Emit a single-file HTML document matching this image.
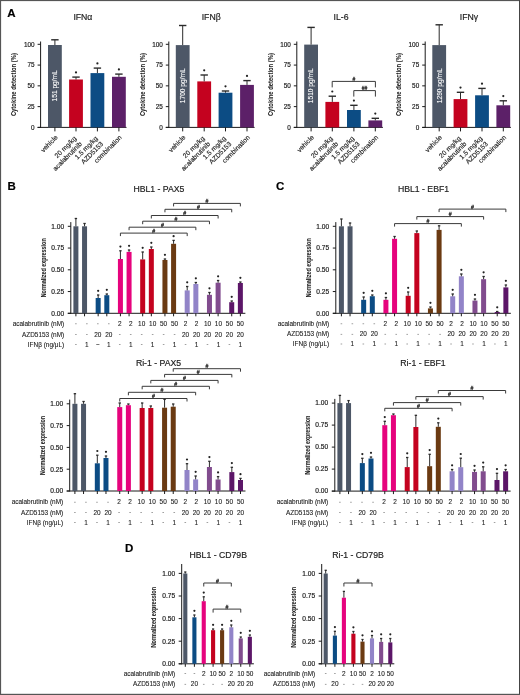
<!DOCTYPE html>
<html><head><meta charset="utf-8"><style>
html,body{margin:0;padding:0;background:#fff;}
body{width:520px;height:695px;overflow:hidden;}
svg{display:block;font-family:"Liberation Sans", sans-serif;will-change:transform;}
</style></head><body>
<svg width="520" height="695" viewBox="0 0 520 695">
<rect x="0" y="0" width="520" height="695" fill="#fff"/>
<text x="82.90" y="20.00" font-size="8.7" text-anchor="middle" fill="#222" font-weight="normal" stroke="#222" stroke-width="0.18" >IFN&#945;</text>
<line x1="40.60" y1="41.50" x2="40.60" y2="127.90" stroke="#1a1a1a" stroke-width="1"/>
<line x1="37.60" y1="127.40" x2="126.50" y2="127.40" stroke="#1a1a1a" stroke-width="1"/>
<line x1="37.60" y1="44.30" x2="40.60" y2="44.30" stroke="#1a1a1a" stroke-width="1"/>
<text x="34.60" y="46.50" font-size="6.4" text-anchor="end" fill="#222" font-weight="normal" stroke="#222" stroke-width="0.18" >100</text>
<line x1="37.60" y1="65.08" x2="40.60" y2="65.08" stroke="#1a1a1a" stroke-width="1"/>
<text x="34.60" y="67.28" font-size="6.4" text-anchor="end" fill="#222" font-weight="normal" stroke="#222" stroke-width="0.18" >75</text>
<line x1="37.60" y1="85.85" x2="40.60" y2="85.85" stroke="#1a1a1a" stroke-width="1"/>
<text x="34.60" y="88.05" font-size="6.4" text-anchor="end" fill="#222" font-weight="normal" stroke="#222" stroke-width="0.18" >50</text>
<line x1="37.60" y1="106.62" x2="40.60" y2="106.62" stroke="#1a1a1a" stroke-width="1"/>
<text x="34.60" y="108.83" font-size="6.4" text-anchor="end" fill="#222" font-weight="normal" stroke="#222" stroke-width="0.18" >25</text>
<line x1="37.60" y1="127.40" x2="40.60" y2="127.40" stroke="#1a1a1a" stroke-width="1"/>
<text x="34.60" y="129.60" font-size="6.4" text-anchor="end" fill="#222" font-weight="normal" stroke="#222" stroke-width="0.18" >0</text>
<text transform="translate(16.30,84.60) rotate(-90)" font-size="7.8" font-weight="bold" text-anchor="middle" fill="#222" stroke="#222" stroke-width="0.05" textLength="63" lengthAdjust="spacingAndGlyphs">Cytokine detection (%)</text>
<rect x="48.00" y="45.00" width="13.80" height="82.40" fill="#4d5767"/>
<line x1="54.90" y1="39.80" x2="54.90" y2="45.00" stroke="#2b2b2b" stroke-width="1"/>
<line x1="51.20" y1="39.80" x2="58.60" y2="39.80" stroke="#2b2b2b" stroke-width="1.4"/>
<line x1="54.90" y1="127.40" x2="54.90" y2="131.40" stroke="#1a1a1a" stroke-width="1"/>
<rect x="69.10" y="79.50" width="13.80" height="47.90" fill="#c4021f"/>
<line x1="76.00" y1="77.10" x2="76.00" y2="79.50" stroke="#2b2b2b" stroke-width="1"/>
<line x1="72.30" y1="77.10" x2="79.70" y2="77.10" stroke="#2b2b2b" stroke-width="1.4"/>
<line x1="76.00" y1="127.40" x2="76.00" y2="131.40" stroke="#1a1a1a" stroke-width="1"/>
<circle cx="76.00" cy="72.40" r="1.1" fill="#222"/>
<rect x="90.50" y="73.10" width="13.80" height="54.30" fill="#0c4c84"/>
<line x1="97.40" y1="68.10" x2="97.40" y2="73.10" stroke="#2b2b2b" stroke-width="1"/>
<line x1="93.70" y1="68.10" x2="101.10" y2="68.10" stroke="#2b2b2b" stroke-width="1.4"/>
<line x1="97.40" y1="127.40" x2="97.40" y2="131.40" stroke="#1a1a1a" stroke-width="1"/>
<circle cx="97.40" cy="63.40" r="1.1" fill="#222"/>
<rect x="112.00" y="76.80" width="13.80" height="50.60" fill="#5c2068"/>
<line x1="118.90" y1="74.10" x2="118.90" y2="76.80" stroke="#2b2b2b" stroke-width="1"/>
<line x1="115.20" y1="74.10" x2="122.60" y2="74.10" stroke="#2b2b2b" stroke-width="1.4"/>
<line x1="118.90" y1="127.40" x2="118.90" y2="131.40" stroke="#1a1a1a" stroke-width="1"/>
<circle cx="118.90" cy="69.40" r="1.1" fill="#222"/>
<text transform="translate(57.20,85.80) rotate(-90)" font-size="6.6" text-anchor="middle" fill="#fff" stroke="#fff" stroke-width="0.1">151 pg/mL</text>
<text transform="translate(58.20,137.90) rotate(-45)" font-size="6.7" text-anchor="end" fill="#222" stroke="#222" stroke-width="0.15">vehicle</text>
<text transform="translate(76.82,138.96) rotate(-45)" font-size="6.7" text-anchor="end" fill="#222" stroke="#222" stroke-width="0.15">20 mg/kg</text>
<text transform="translate(82.32,144.46) rotate(-45)" font-size="6.7" text-anchor="end" fill="#222" stroke="#222" stroke-width="0.15">acalabrutinib</text>
<text transform="translate(98.22,138.96) rotate(-45)" font-size="6.7" text-anchor="end" fill="#222" stroke="#222" stroke-width="0.15">1.5 mg/kg</text>
<text transform="translate(103.72,144.46) rotate(-45)" font-size="6.7" text-anchor="end" fill="#222" stroke="#222" stroke-width="0.15">AZD5153</text>
<text transform="translate(122.20,137.90) rotate(-45)" font-size="6.7" text-anchor="end" fill="#222" stroke="#222" stroke-width="0.15">combination</text>
<text x="211.20" y="20.00" font-size="8.7" text-anchor="middle" fill="#222" font-weight="normal" stroke="#222" stroke-width="0.18" >IFN&#946;</text>
<line x1="168.80" y1="41.50" x2="168.80" y2="127.90" stroke="#1a1a1a" stroke-width="1"/>
<line x1="165.80" y1="127.40" x2="254.60" y2="127.40" stroke="#1a1a1a" stroke-width="1"/>
<line x1="165.80" y1="44.30" x2="168.80" y2="44.30" stroke="#1a1a1a" stroke-width="1"/>
<text x="162.80" y="46.50" font-size="6.4" text-anchor="end" fill="#222" font-weight="normal" stroke="#222" stroke-width="0.18" >100</text>
<line x1="165.80" y1="65.08" x2="168.80" y2="65.08" stroke="#1a1a1a" stroke-width="1"/>
<text x="162.80" y="67.28" font-size="6.4" text-anchor="end" fill="#222" font-weight="normal" stroke="#222" stroke-width="0.18" >75</text>
<line x1="165.80" y1="85.85" x2="168.80" y2="85.85" stroke="#1a1a1a" stroke-width="1"/>
<text x="162.80" y="88.05" font-size="6.4" text-anchor="end" fill="#222" font-weight="normal" stroke="#222" stroke-width="0.18" >50</text>
<line x1="165.80" y1="106.62" x2="168.80" y2="106.62" stroke="#1a1a1a" stroke-width="1"/>
<text x="162.80" y="108.83" font-size="6.4" text-anchor="end" fill="#222" font-weight="normal" stroke="#222" stroke-width="0.18" >25</text>
<line x1="165.80" y1="127.40" x2="168.80" y2="127.40" stroke="#1a1a1a" stroke-width="1"/>
<text x="162.80" y="129.60" font-size="6.4" text-anchor="end" fill="#222" font-weight="normal" stroke="#222" stroke-width="0.18" >0</text>
<text transform="translate(144.50,84.60) rotate(-90)" font-size="7.8" font-weight="bold" text-anchor="middle" fill="#222" stroke="#222" stroke-width="0.05" textLength="63" lengthAdjust="spacingAndGlyphs">Cytokine detection (%)</text>
<rect x="175.80" y="45.10" width="13.80" height="82.30" fill="#4d5767"/>
<line x1="182.70" y1="25.50" x2="182.70" y2="45.10" stroke="#2b2b2b" stroke-width="1"/>
<line x1="179.00" y1="25.50" x2="186.40" y2="25.50" stroke="#2b2b2b" stroke-width="1.4"/>
<line x1="182.70" y1="127.40" x2="182.70" y2="131.40" stroke="#1a1a1a" stroke-width="1"/>
<rect x="197.30" y="81.40" width="13.80" height="46.00" fill="#c4021f"/>
<line x1="204.20" y1="75.00" x2="204.20" y2="81.40" stroke="#2b2b2b" stroke-width="1"/>
<line x1="200.50" y1="75.00" x2="207.90" y2="75.00" stroke="#2b2b2b" stroke-width="1.4"/>
<line x1="204.20" y1="127.40" x2="204.20" y2="131.40" stroke="#1a1a1a" stroke-width="1"/>
<circle cx="204.20" cy="70.30" r="1.1" fill="#222"/>
<rect x="218.60" y="92.70" width="13.80" height="34.70" fill="#0c4c84"/>
<line x1="225.50" y1="91.00" x2="225.50" y2="92.70" stroke="#2b2b2b" stroke-width="1"/>
<line x1="221.80" y1="91.00" x2="229.20" y2="91.00" stroke="#2b2b2b" stroke-width="1.4"/>
<line x1="225.50" y1="127.40" x2="225.50" y2="131.40" stroke="#1a1a1a" stroke-width="1"/>
<circle cx="225.50" cy="86.30" r="1.1" fill="#222"/>
<rect x="240.10" y="84.90" width="13.80" height="42.50" fill="#5c2068"/>
<line x1="247.00" y1="80.60" x2="247.00" y2="84.90" stroke="#2b2b2b" stroke-width="1"/>
<line x1="243.30" y1="80.60" x2="250.70" y2="80.60" stroke="#2b2b2b" stroke-width="1.4"/>
<line x1="247.00" y1="127.40" x2="247.00" y2="131.40" stroke="#1a1a1a" stroke-width="1"/>
<circle cx="247.00" cy="75.90" r="1.1" fill="#222"/>
<text transform="translate(185.00,85.80) rotate(-90)" font-size="6.6" text-anchor="middle" fill="#fff" stroke="#fff" stroke-width="0.1">1700 pg/mL</text>
<text transform="translate(186.00,137.90) rotate(-45)" font-size="6.7" text-anchor="end" fill="#222" stroke="#222" stroke-width="0.15">vehicle</text>
<text transform="translate(205.02,138.96) rotate(-45)" font-size="6.7" text-anchor="end" fill="#222" stroke="#222" stroke-width="0.15">20 mg/kg</text>
<text transform="translate(210.52,144.46) rotate(-45)" font-size="6.7" text-anchor="end" fill="#222" stroke="#222" stroke-width="0.15">acalabrutinib</text>
<text transform="translate(226.32,138.96) rotate(-45)" font-size="6.7" text-anchor="end" fill="#222" stroke="#222" stroke-width="0.15">1.5 mg/kg</text>
<text transform="translate(231.82,144.46) rotate(-45)" font-size="6.7" text-anchor="end" fill="#222" stroke="#222" stroke-width="0.15">AZD5153</text>
<text transform="translate(250.30,137.90) rotate(-45)" font-size="6.7" text-anchor="end" fill="#222" stroke="#222" stroke-width="0.15">combination</text>
<text x="341.00" y="20.00" font-size="8.7" text-anchor="middle" fill="#222" font-weight="normal" stroke="#222" stroke-width="0.18" >IL-6</text>
<line x1="296.80" y1="41.50" x2="296.80" y2="127.90" stroke="#1a1a1a" stroke-width="1"/>
<line x1="293.80" y1="127.40" x2="382.90" y2="127.40" stroke="#1a1a1a" stroke-width="1"/>
<line x1="293.80" y1="44.30" x2="296.80" y2="44.30" stroke="#1a1a1a" stroke-width="1"/>
<text x="290.80" y="46.50" font-size="6.4" text-anchor="end" fill="#222" font-weight="normal" stroke="#222" stroke-width="0.18" >100</text>
<line x1="293.80" y1="65.08" x2="296.80" y2="65.08" stroke="#1a1a1a" stroke-width="1"/>
<text x="290.80" y="67.28" font-size="6.4" text-anchor="end" fill="#222" font-weight="normal" stroke="#222" stroke-width="0.18" >75</text>
<line x1="293.80" y1="85.85" x2="296.80" y2="85.85" stroke="#1a1a1a" stroke-width="1"/>
<text x="290.80" y="88.05" font-size="6.4" text-anchor="end" fill="#222" font-weight="normal" stroke="#222" stroke-width="0.18" >50</text>
<line x1="293.80" y1="106.62" x2="296.80" y2="106.62" stroke="#1a1a1a" stroke-width="1"/>
<text x="290.80" y="108.83" font-size="6.4" text-anchor="end" fill="#222" font-weight="normal" stroke="#222" stroke-width="0.18" >25</text>
<line x1="293.80" y1="127.40" x2="296.80" y2="127.40" stroke="#1a1a1a" stroke-width="1"/>
<text x="290.80" y="129.60" font-size="6.4" text-anchor="end" fill="#222" font-weight="normal" stroke="#222" stroke-width="0.18" >0</text>
<text transform="translate(272.50,84.60) rotate(-90)" font-size="7.8" font-weight="bold" text-anchor="middle" fill="#222" stroke="#222" stroke-width="0.05" textLength="63" lengthAdjust="spacingAndGlyphs">Cytokine detection (%)</text>
<rect x="304.20" y="44.60" width="13.80" height="82.80" fill="#4d5767"/>
<line x1="311.10" y1="27.40" x2="311.10" y2="44.60" stroke="#2b2b2b" stroke-width="1"/>
<line x1="307.40" y1="27.40" x2="314.80" y2="27.40" stroke="#2b2b2b" stroke-width="1.4"/>
<line x1="311.10" y1="127.40" x2="311.10" y2="131.40" stroke="#1a1a1a" stroke-width="1"/>
<rect x="325.40" y="101.90" width="13.80" height="25.50" fill="#c4021f"/>
<line x1="332.30" y1="96.20" x2="332.30" y2="101.90" stroke="#2b2b2b" stroke-width="1"/>
<line x1="328.60" y1="96.20" x2="336.00" y2="96.20" stroke="#2b2b2b" stroke-width="1.4"/>
<line x1="332.30" y1="127.40" x2="332.30" y2="131.40" stroke="#1a1a1a" stroke-width="1"/>
<circle cx="332.30" cy="91.50" r="1.1" fill="#222"/>
<rect x="347.00" y="110.00" width="13.80" height="17.40" fill="#0c4c84"/>
<line x1="353.90" y1="105.30" x2="353.90" y2="110.00" stroke="#2b2b2b" stroke-width="1"/>
<line x1="350.20" y1="105.30" x2="357.60" y2="105.30" stroke="#2b2b2b" stroke-width="1.4"/>
<line x1="353.90" y1="127.40" x2="353.90" y2="131.40" stroke="#1a1a1a" stroke-width="1"/>
<circle cx="353.90" cy="100.60" r="1.1" fill="#222"/>
<rect x="368.40" y="120.40" width="13.80" height="7.00" fill="#5c2068"/>
<line x1="375.30" y1="118.30" x2="375.30" y2="120.40" stroke="#2b2b2b" stroke-width="1"/>
<line x1="371.60" y1="118.30" x2="379.00" y2="118.30" stroke="#2b2b2b" stroke-width="1.4"/>
<line x1="375.30" y1="127.40" x2="375.30" y2="131.40" stroke="#1a1a1a" stroke-width="1"/>
<circle cx="375.30" cy="113.60" r="1.1" fill="#222"/>
<text transform="translate(313.40,85.80) rotate(-90)" font-size="6.6" text-anchor="middle" fill="#fff" stroke="#fff" stroke-width="0.1">1510 pg/mL</text>
<text transform="translate(314.40,137.90) rotate(-45)" font-size="6.7" text-anchor="end" fill="#222" stroke="#222" stroke-width="0.15">vehicle</text>
<text transform="translate(333.12,138.96) rotate(-45)" font-size="6.7" text-anchor="end" fill="#222" stroke="#222" stroke-width="0.15">20 mg/kg</text>
<text transform="translate(338.62,144.46) rotate(-45)" font-size="6.7" text-anchor="end" fill="#222" stroke="#222" stroke-width="0.15">acalabrutinib</text>
<text transform="translate(354.72,138.96) rotate(-45)" font-size="6.7" text-anchor="end" fill="#222" stroke="#222" stroke-width="0.15">1.5 mg/kg</text>
<text transform="translate(360.22,144.46) rotate(-45)" font-size="6.7" text-anchor="end" fill="#222" stroke="#222" stroke-width="0.15">AZD5153</text>
<text transform="translate(378.60,137.90) rotate(-45)" font-size="6.7" text-anchor="end" fill="#222" stroke="#222" stroke-width="0.15">combination</text>
<text x="469.00" y="20.00" font-size="8.7" text-anchor="middle" fill="#222" font-weight="normal" stroke="#222" stroke-width="0.18" >IFN&#947;</text>
<line x1="425.20" y1="41.50" x2="425.20" y2="127.90" stroke="#1a1a1a" stroke-width="1"/>
<line x1="422.20" y1="127.40" x2="510.90" y2="127.40" stroke="#1a1a1a" stroke-width="1"/>
<line x1="422.20" y1="44.30" x2="425.20" y2="44.30" stroke="#1a1a1a" stroke-width="1"/>
<text x="419.20" y="46.50" font-size="6.4" text-anchor="end" fill="#222" font-weight="normal" stroke="#222" stroke-width="0.18" >100</text>
<line x1="422.20" y1="65.08" x2="425.20" y2="65.08" stroke="#1a1a1a" stroke-width="1"/>
<text x="419.20" y="67.28" font-size="6.4" text-anchor="end" fill="#222" font-weight="normal" stroke="#222" stroke-width="0.18" >75</text>
<line x1="422.20" y1="85.85" x2="425.20" y2="85.85" stroke="#1a1a1a" stroke-width="1"/>
<text x="419.20" y="88.05" font-size="6.4" text-anchor="end" fill="#222" font-weight="normal" stroke="#222" stroke-width="0.18" >50</text>
<line x1="422.20" y1="106.62" x2="425.20" y2="106.62" stroke="#1a1a1a" stroke-width="1"/>
<text x="419.20" y="108.83" font-size="6.4" text-anchor="end" fill="#222" font-weight="normal" stroke="#222" stroke-width="0.18" >25</text>
<line x1="422.20" y1="127.40" x2="425.20" y2="127.40" stroke="#1a1a1a" stroke-width="1"/>
<text x="419.20" y="129.60" font-size="6.4" text-anchor="end" fill="#222" font-weight="normal" stroke="#222" stroke-width="0.18" >0</text>
<text transform="translate(400.90,84.60) rotate(-90)" font-size="7.8" font-weight="bold" text-anchor="middle" fill="#222" stroke="#222" stroke-width="0.05" textLength="63" lengthAdjust="spacingAndGlyphs">Cytokine detection (%)</text>
<rect x="432.30" y="45.10" width="13.80" height="82.30" fill="#4d5767"/>
<line x1="439.20" y1="24.80" x2="439.20" y2="45.10" stroke="#2b2b2b" stroke-width="1"/>
<line x1="435.50" y1="24.80" x2="442.90" y2="24.80" stroke="#2b2b2b" stroke-width="1.4"/>
<line x1="439.20" y1="127.40" x2="439.20" y2="131.40" stroke="#1a1a1a" stroke-width="1"/>
<rect x="453.60" y="99.10" width="13.80" height="28.30" fill="#c4021f"/>
<line x1="460.50" y1="92.30" x2="460.50" y2="99.10" stroke="#2b2b2b" stroke-width="1"/>
<line x1="456.80" y1="92.30" x2="464.20" y2="92.30" stroke="#2b2b2b" stroke-width="1.4"/>
<line x1="460.50" y1="127.40" x2="460.50" y2="131.40" stroke="#1a1a1a" stroke-width="1"/>
<circle cx="460.50" cy="87.60" r="1.1" fill="#222"/>
<rect x="475.10" y="95.30" width="13.80" height="32.10" fill="#0c4c84"/>
<line x1="482.00" y1="88.40" x2="482.00" y2="95.30" stroke="#2b2b2b" stroke-width="1"/>
<line x1="478.30" y1="88.40" x2="485.70" y2="88.40" stroke="#2b2b2b" stroke-width="1.4"/>
<line x1="482.00" y1="127.40" x2="482.00" y2="131.40" stroke="#1a1a1a" stroke-width="1"/>
<circle cx="482.00" cy="83.70" r="1.1" fill="#222"/>
<rect x="496.40" y="105.30" width="13.80" height="22.10" fill="#5c2068"/>
<line x1="503.30" y1="100.80" x2="503.30" y2="105.30" stroke="#2b2b2b" stroke-width="1"/>
<line x1="499.60" y1="100.80" x2="507.00" y2="100.80" stroke="#2b2b2b" stroke-width="1.4"/>
<line x1="503.30" y1="127.40" x2="503.30" y2="131.40" stroke="#1a1a1a" stroke-width="1"/>
<circle cx="503.30" cy="96.10" r="1.1" fill="#222"/>
<text transform="translate(441.50,85.80) rotate(-90)" font-size="6.6" text-anchor="middle" fill="#fff" stroke="#fff" stroke-width="0.1">1290 pg/mL</text>
<text transform="translate(442.50,137.90) rotate(-45)" font-size="6.7" text-anchor="end" fill="#222" stroke="#222" stroke-width="0.15">vehicle</text>
<text transform="translate(461.32,138.96) rotate(-45)" font-size="6.7" text-anchor="end" fill="#222" stroke="#222" stroke-width="0.15">20 mg/kg</text>
<text transform="translate(466.82,144.46) rotate(-45)" font-size="6.7" text-anchor="end" fill="#222" stroke="#222" stroke-width="0.15">acalabrutinib</text>
<text transform="translate(482.82,138.96) rotate(-45)" font-size="6.7" text-anchor="end" fill="#222" stroke="#222" stroke-width="0.15">1.5 mg/kg</text>
<text transform="translate(488.32,144.46) rotate(-45)" font-size="6.7" text-anchor="end" fill="#222" stroke="#222" stroke-width="0.15">AZD5153</text>
<text transform="translate(506.60,137.90) rotate(-45)" font-size="6.7" text-anchor="end" fill="#222" stroke="#222" stroke-width="0.15">combination</text>
<path d="M332.20,87.40 V81.40 H375.40 V87.40" fill="none" stroke="#3a3a3a" stroke-width="1.0"/>
<text x="353.80" y="81.10" font-size="5" text-anchor="middle" fill="#333" font-weight="normal" stroke="#333" stroke-width="0.3" >#</text>
<path d="M353.80,96.60 V90.60 H375.40 V96.60" fill="none" stroke="#3a3a3a" stroke-width="1.0"/>
<text x="364.60" y="90.30" font-size="5" text-anchor="middle" fill="#333" font-weight="normal" stroke="#333" stroke-width="0.3" >##</text>
<text x="158.90" y="192.00" font-size="8.7" text-anchor="middle" fill="#222" font-weight="normal" stroke="#222" stroke-width="0.18" >HBL1 - PAX5</text>
<line x1="70.80" y1="222.10" x2="70.80" y2="313.80" stroke="#1a1a1a" stroke-width="1"/>
<line x1="67.80" y1="313.30" x2="245.37" y2="313.30" stroke="#1a1a1a" stroke-width="1"/>
<line x1="67.80" y1="226.30" x2="70.80" y2="226.30" stroke="#1a1a1a" stroke-width="1"/>
<text x="64.20" y="228.60" font-size="6.6" text-anchor="end" fill="#222" font-weight="normal" stroke="#222" stroke-width="0.18" >1.00</text>
<line x1="67.80" y1="248.05" x2="70.80" y2="248.05" stroke="#1a1a1a" stroke-width="1"/>
<text x="64.20" y="250.35" font-size="6.6" text-anchor="end" fill="#222" font-weight="normal" stroke="#222" stroke-width="0.18" >0.75</text>
<line x1="67.80" y1="269.80" x2="70.80" y2="269.80" stroke="#1a1a1a" stroke-width="1"/>
<text x="64.20" y="272.10" font-size="6.6" text-anchor="end" fill="#222" font-weight="normal" stroke="#222" stroke-width="0.18" >0.50</text>
<line x1="67.80" y1="291.55" x2="70.80" y2="291.55" stroke="#1a1a1a" stroke-width="1"/>
<text x="64.20" y="293.85" font-size="6.6" text-anchor="end" fill="#222" font-weight="normal" stroke="#222" stroke-width="0.18" >0.25</text>
<line x1="67.80" y1="313.30" x2="70.80" y2="313.30" stroke="#1a1a1a" stroke-width="1"/>
<text x="64.20" y="315.60" font-size="6.6" text-anchor="end" fill="#222" font-weight="normal" stroke="#222" stroke-width="0.18" >0.00</text>
<text transform="translate(45.80,267.80) rotate(-90)" font-size="7.4" font-weight="bold" text-anchor="middle" fill="#222" stroke="#222" stroke-width="0.05" textLength="59" lengthAdjust="spacingAndGlyphs">Normalized expression</text>
<rect x="73.40" y="226.30" width="5.00" height="87.00" fill="#4d5767"/>
<line x1="75.90" y1="218.50" x2="75.90" y2="226.30" stroke="#2b2b2b" stroke-width="1"/>
<line x1="74.70" y1="218.50" x2="77.10" y2="218.50" stroke="#2b2b2b" stroke-width="1.3"/>
<line x1="75.90" y1="313.30" x2="75.90" y2="316.30" stroke="#1a1a1a" stroke-width="1"/>
<rect x="82.05" y="226.30" width="5.00" height="87.00" fill="#4d5767"/>
<line x1="84.55" y1="223.50" x2="84.55" y2="226.30" stroke="#2b2b2b" stroke-width="1"/>
<line x1="83.35" y1="223.50" x2="85.75" y2="223.50" stroke="#2b2b2b" stroke-width="1.3"/>
<line x1="84.55" y1="313.30" x2="84.55" y2="316.30" stroke="#1a1a1a" stroke-width="1"/>
<rect x="95.66" y="298.00" width="5.00" height="15.30" fill="#0c4c84"/>
<line x1="98.16" y1="295.00" x2="98.16" y2="298.00" stroke="#2b2b2b" stroke-width="1"/>
<line x1="96.96" y1="295.00" x2="99.36" y2="295.00" stroke="#2b2b2b" stroke-width="1.3"/>
<line x1="98.16" y1="313.30" x2="98.16" y2="316.30" stroke="#1a1a1a" stroke-width="1"/>
<circle cx="98.16" cy="290.80" r="1.1" fill="#222"/>
<rect x="104.31" y="295.20" width="5.00" height="18.10" fill="#0c4c84"/>
<line x1="106.81" y1="294.00" x2="106.81" y2="295.20" stroke="#2b2b2b" stroke-width="1"/>
<line x1="105.61" y1="294.00" x2="108.01" y2="294.00" stroke="#2b2b2b" stroke-width="1.3"/>
<line x1="106.81" y1="313.30" x2="106.81" y2="316.30" stroke="#1a1a1a" stroke-width="1"/>
<circle cx="106.81" cy="289.80" r="1.1" fill="#222"/>
<rect x="117.92" y="259.00" width="5.00" height="54.30" fill="#e6037d"/>
<line x1="120.42" y1="250.80" x2="120.42" y2="259.00" stroke="#2b2b2b" stroke-width="1"/>
<line x1="119.22" y1="250.80" x2="121.62" y2="250.80" stroke="#2b2b2b" stroke-width="1.3"/>
<line x1="120.42" y1="313.30" x2="120.42" y2="316.30" stroke="#1a1a1a" stroke-width="1"/>
<circle cx="120.42" cy="246.60" r="1.1" fill="#222"/>
<rect x="126.57" y="251.90" width="5.00" height="61.40" fill="#e6037d"/>
<line x1="129.07" y1="250.00" x2="129.07" y2="251.90" stroke="#2b2b2b" stroke-width="1"/>
<line x1="127.87" y1="250.00" x2="130.27" y2="250.00" stroke="#2b2b2b" stroke-width="1.3"/>
<line x1="129.07" y1="313.30" x2="129.07" y2="316.30" stroke="#1a1a1a" stroke-width="1"/>
<circle cx="129.07" cy="245.80" r="1.1" fill="#222"/>
<rect x="140.18" y="259.40" width="5.00" height="53.90" fill="#c4021f"/>
<line x1="142.68" y1="252.00" x2="142.68" y2="259.40" stroke="#2b2b2b" stroke-width="1"/>
<line x1="141.48" y1="252.00" x2="143.88" y2="252.00" stroke="#2b2b2b" stroke-width="1.3"/>
<line x1="142.68" y1="313.30" x2="142.68" y2="316.30" stroke="#1a1a1a" stroke-width="1"/>
<circle cx="142.68" cy="247.80" r="1.1" fill="#222"/>
<rect x="148.83" y="249.00" width="5.00" height="64.30" fill="#c4021f"/>
<line x1="151.33" y1="247.00" x2="151.33" y2="249.00" stroke="#2b2b2b" stroke-width="1"/>
<line x1="150.13" y1="247.00" x2="152.53" y2="247.00" stroke="#2b2b2b" stroke-width="1.3"/>
<line x1="151.33" y1="313.30" x2="151.33" y2="316.30" stroke="#1a1a1a" stroke-width="1"/>
<circle cx="151.33" cy="242.80" r="1.1" fill="#222"/>
<rect x="162.44" y="260.00" width="5.00" height="53.30" fill="#6b3a12"/>
<line x1="164.94" y1="259.00" x2="164.94" y2="260.00" stroke="#2b2b2b" stroke-width="1"/>
<line x1="163.74" y1="259.00" x2="166.14" y2="259.00" stroke="#2b2b2b" stroke-width="1.3"/>
<line x1="164.94" y1="313.30" x2="164.94" y2="316.30" stroke="#1a1a1a" stroke-width="1"/>
<circle cx="164.94" cy="254.80" r="1.1" fill="#222"/>
<rect x="171.09" y="243.80" width="5.00" height="69.50" fill="#6b3a12"/>
<line x1="173.59" y1="240.40" x2="173.59" y2="243.80" stroke="#2b2b2b" stroke-width="1"/>
<line x1="172.39" y1="240.40" x2="174.79" y2="240.40" stroke="#2b2b2b" stroke-width="1.3"/>
<line x1="173.59" y1="313.30" x2="173.59" y2="316.30" stroke="#1a1a1a" stroke-width="1"/>
<circle cx="173.59" cy="236.20" r="1.1" fill="#222"/>
<rect x="184.70" y="290.40" width="5.00" height="22.90" fill="#9284c8"/>
<line x1="187.20" y1="286.50" x2="187.20" y2="290.40" stroke="#2b2b2b" stroke-width="1"/>
<line x1="186.00" y1="286.50" x2="188.40" y2="286.50" stroke="#2b2b2b" stroke-width="1.3"/>
<line x1="187.20" y1="313.30" x2="187.20" y2="316.30" stroke="#1a1a1a" stroke-width="1"/>
<circle cx="187.20" cy="282.30" r="1.1" fill="#222"/>
<rect x="193.35" y="284.00" width="5.00" height="29.30" fill="#9284c8"/>
<line x1="195.85" y1="282.50" x2="195.85" y2="284.00" stroke="#2b2b2b" stroke-width="1"/>
<line x1="194.65" y1="282.50" x2="197.05" y2="282.50" stroke="#2b2b2b" stroke-width="1.3"/>
<line x1="195.85" y1="313.30" x2="195.85" y2="316.30" stroke="#1a1a1a" stroke-width="1"/>
<circle cx="195.85" cy="278.30" r="1.1" fill="#222"/>
<rect x="206.96" y="294.80" width="5.00" height="18.50" fill="#814c8e"/>
<line x1="209.46" y1="292.50" x2="209.46" y2="294.80" stroke="#2b2b2b" stroke-width="1"/>
<line x1="208.26" y1="292.50" x2="210.66" y2="292.50" stroke="#2b2b2b" stroke-width="1.3"/>
<line x1="209.46" y1="313.30" x2="209.46" y2="316.30" stroke="#1a1a1a" stroke-width="1"/>
<circle cx="209.46" cy="288.30" r="1.1" fill="#222"/>
<rect x="215.61" y="282.70" width="5.00" height="30.60" fill="#814c8e"/>
<line x1="218.11" y1="280.50" x2="218.11" y2="282.70" stroke="#2b2b2b" stroke-width="1"/>
<line x1="216.91" y1="280.50" x2="219.31" y2="280.50" stroke="#2b2b2b" stroke-width="1.3"/>
<line x1="218.11" y1="313.30" x2="218.11" y2="316.30" stroke="#1a1a1a" stroke-width="1"/>
<circle cx="218.11" cy="276.30" r="1.1" fill="#222"/>
<rect x="229.22" y="302.20" width="5.00" height="11.10" fill="#5c1668"/>
<line x1="231.72" y1="301.00" x2="231.72" y2="302.20" stroke="#2b2b2b" stroke-width="1"/>
<line x1="230.52" y1="301.00" x2="232.92" y2="301.00" stroke="#2b2b2b" stroke-width="1.3"/>
<line x1="231.72" y1="313.30" x2="231.72" y2="316.30" stroke="#1a1a1a" stroke-width="1"/>
<circle cx="231.72" cy="296.80" r="1.1" fill="#222"/>
<rect x="237.87" y="283.00" width="5.00" height="30.30" fill="#5c1668"/>
<line x1="240.37" y1="282.00" x2="240.37" y2="283.00" stroke="#2b2b2b" stroke-width="1"/>
<line x1="239.17" y1="282.00" x2="241.57" y2="282.00" stroke="#2b2b2b" stroke-width="1.3"/>
<line x1="240.37" y1="313.30" x2="240.37" y2="316.30" stroke="#1a1a1a" stroke-width="1"/>
<circle cx="240.37" cy="277.80" r="1.1" fill="#222"/>
<path d="M120.42,236.10 V233.10 H187.20 V236.10" fill="none" stroke="#3a3a3a" stroke-width="1.0"/>
<text x="153.81" y="232.80" font-size="5.2" text-anchor="middle" fill="#333" font-weight="normal" stroke="#333" stroke-width="0.3" >#</text>
<path d="M129.07,230.20 V227.20 H195.85 V230.20" fill="none" stroke="#3a3a3a" stroke-width="1.0"/>
<text x="162.46" y="226.90" font-size="5.2" text-anchor="middle" fill="#333" font-weight="normal" stroke="#333" stroke-width="0.3" >#</text>
<path d="M142.68,224.20 V221.20 H209.46 V224.20" fill="none" stroke="#3a3a3a" stroke-width="1.0"/>
<text x="176.07" y="220.90" font-size="5.2" text-anchor="middle" fill="#333" font-weight="normal" stroke="#333" stroke-width="0.3" >#</text>
<path d="M151.33,218.50 V215.50 H218.11 V218.50" fill="none" stroke="#3a3a3a" stroke-width="1.0"/>
<text x="184.72" y="215.20" font-size="5.2" text-anchor="middle" fill="#333" font-weight="normal" stroke="#333" stroke-width="0.3" >#</text>
<path d="M164.94,212.30 V209.30 H231.72 V212.30" fill="none" stroke="#3a3a3a" stroke-width="1.0"/>
<text x="198.33" y="209.00" font-size="5.2" text-anchor="middle" fill="#333" font-weight="normal" stroke="#333" stroke-width="0.3" >#</text>
<path d="M173.59,206.40 V203.40 H240.37 V206.40" fill="none" stroke="#3a3a3a" stroke-width="1.0"/>
<text x="206.98" y="203.10" font-size="5.2" text-anchor="middle" fill="#333" font-weight="normal" stroke="#333" stroke-width="0.3" >#</text>
<text x="64.20" y="325.90" font-size="6.45" text-anchor="end" fill="#222" font-weight="normal" stroke="#222" stroke-width="0.1" >acalabrutinib (nM)</text>
<rect x="75.10" y="323.40" width="1.60" height="0.80" fill="#8a8a8a"/>
<rect x="86.06" y="323.40" width="1.60" height="0.80" fill="#8a8a8a"/>
<rect x="97.03" y="323.40" width="1.60" height="0.80" fill="#8a8a8a"/>
<rect x="107.99" y="323.40" width="1.60" height="0.80" fill="#8a8a8a"/>
<text x="119.76" y="325.90" font-size="6.45" text-anchor="middle" fill="#222" font-weight="normal" stroke="#222" stroke-width="0.1" >2</text>
<text x="130.72" y="325.90" font-size="6.45" text-anchor="middle" fill="#222" font-weight="normal" stroke="#222" stroke-width="0.1" >2</text>
<text x="141.69" y="325.90" font-size="6.45" text-anchor="middle" fill="#222" font-weight="normal" stroke="#222" stroke-width="0.1" >10</text>
<text x="152.65" y="325.90" font-size="6.45" text-anchor="middle" fill="#222" font-weight="normal" stroke="#222" stroke-width="0.1" >10</text>
<text x="163.62" y="325.90" font-size="6.45" text-anchor="middle" fill="#222" font-weight="normal" stroke="#222" stroke-width="0.1" >50</text>
<text x="174.58" y="325.90" font-size="6.45" text-anchor="middle" fill="#222" font-weight="normal" stroke="#222" stroke-width="0.1" >50</text>
<text x="185.55" y="325.90" font-size="6.45" text-anchor="middle" fill="#222" font-weight="normal" stroke="#222" stroke-width="0.1" >2</text>
<text x="196.51" y="325.90" font-size="6.45" text-anchor="middle" fill="#222" font-weight="normal" stroke="#222" stroke-width="0.1" >2</text>
<text x="207.48" y="325.90" font-size="6.45" text-anchor="middle" fill="#222" font-weight="normal" stroke="#222" stroke-width="0.1" >10</text>
<text x="218.44" y="325.90" font-size="6.45" text-anchor="middle" fill="#222" font-weight="normal" stroke="#222" stroke-width="0.1" >10</text>
<text x="229.41" y="325.90" font-size="6.45" text-anchor="middle" fill="#222" font-weight="normal" stroke="#222" stroke-width="0.1" >50</text>
<text x="240.37" y="325.90" font-size="6.45" text-anchor="middle" fill="#222" font-weight="normal" stroke="#222" stroke-width="0.1" >50</text>
<text x="64.20" y="336.50" font-size="6.45" text-anchor="end" fill="#222" font-weight="normal" stroke="#222" stroke-width="0.1" >AZD5153 (nM)</text>
<rect x="75.10" y="334.00" width="1.60" height="0.80" fill="#8a8a8a"/>
<rect x="86.06" y="334.00" width="1.60" height="0.80" fill="#8a8a8a"/>
<text x="97.83" y="336.50" font-size="6.45" text-anchor="middle" fill="#222" font-weight="normal" stroke="#222" stroke-width="0.1" >20</text>
<text x="108.79" y="336.50" font-size="6.45" text-anchor="middle" fill="#222" font-weight="normal" stroke="#222" stroke-width="0.1" >20</text>
<rect x="118.96" y="334.00" width="1.60" height="0.80" fill="#8a8a8a"/>
<rect x="129.92" y="334.00" width="1.60" height="0.80" fill="#8a8a8a"/>
<rect x="140.89" y="334.00" width="1.60" height="0.80" fill="#8a8a8a"/>
<rect x="151.85" y="334.00" width="1.60" height="0.80" fill="#8a8a8a"/>
<rect x="162.82" y="334.00" width="1.60" height="0.80" fill="#8a8a8a"/>
<rect x="173.78" y="334.00" width="1.60" height="0.80" fill="#8a8a8a"/>
<text x="185.55" y="336.50" font-size="6.45" text-anchor="middle" fill="#222" font-weight="normal" stroke="#222" stroke-width="0.1" >20</text>
<text x="196.51" y="336.50" font-size="6.45" text-anchor="middle" fill="#222" font-weight="normal" stroke="#222" stroke-width="0.1" >20</text>
<text x="207.48" y="336.50" font-size="6.45" text-anchor="middle" fill="#222" font-weight="normal" stroke="#222" stroke-width="0.1" >20</text>
<text x="218.44" y="336.50" font-size="6.45" text-anchor="middle" fill="#222" font-weight="normal" stroke="#222" stroke-width="0.1" >20</text>
<text x="229.41" y="336.50" font-size="6.45" text-anchor="middle" fill="#222" font-weight="normal" stroke="#222" stroke-width="0.1" >20</text>
<text x="240.37" y="336.50" font-size="6.45" text-anchor="middle" fill="#222" font-weight="normal" stroke="#222" stroke-width="0.1" >20</text>
<text x="64.20" y="346.50" font-size="6.45" text-anchor="end" fill="#222" font-weight="normal" stroke="#222" stroke-width="0.1" >IFN&#946; (ng/&#956;L)</text>
<rect x="75.10" y="344.00" width="1.60" height="0.80" fill="#8a8a8a"/>
<text x="86.86" y="346.50" font-size="6.45" text-anchor="middle" fill="#222" font-weight="normal" stroke="#222" stroke-width="0.1" >1</text>
<rect x="96.23" y="344.00" width="3.20" height="0.80" fill="#555"/>
<text x="108.79" y="346.50" font-size="6.45" text-anchor="middle" fill="#222" font-weight="normal" stroke="#222" stroke-width="0.1" >1</text>
<rect x="118.96" y="344.00" width="1.60" height="0.80" fill="#8a8a8a"/>
<text x="130.72" y="346.50" font-size="6.45" text-anchor="middle" fill="#222" font-weight="normal" stroke="#222" stroke-width="0.1" >1</text>
<rect x="140.89" y="344.00" width="1.60" height="0.80" fill="#8a8a8a"/>
<text x="152.65" y="346.50" font-size="6.45" text-anchor="middle" fill="#222" font-weight="normal" stroke="#222" stroke-width="0.1" >1</text>
<rect x="162.82" y="344.00" width="1.60" height="0.80" fill="#8a8a8a"/>
<text x="174.58" y="346.50" font-size="6.45" text-anchor="middle" fill="#222" font-weight="normal" stroke="#222" stroke-width="0.1" >1</text>
<rect x="184.75" y="344.00" width="1.60" height="0.80" fill="#8a8a8a"/>
<text x="196.51" y="346.50" font-size="6.45" text-anchor="middle" fill="#222" font-weight="normal" stroke="#222" stroke-width="0.1" >1</text>
<rect x="206.68" y="344.00" width="1.60" height="0.80" fill="#8a8a8a"/>
<text x="218.44" y="346.50" font-size="6.45" text-anchor="middle" fill="#222" font-weight="normal" stroke="#222" stroke-width="0.1" >1</text>
<rect x="228.61" y="344.00" width="1.60" height="0.80" fill="#8a8a8a"/>
<text x="240.37" y="346.50" font-size="6.45" text-anchor="middle" fill="#222" font-weight="normal" stroke="#222" stroke-width="0.1" >1</text>
<text x="158.50" y="365.70" font-size="8.7" text-anchor="middle" fill="#222" font-weight="normal" stroke="#222" stroke-width="0.18" >Ri-1 - PAX5</text>
<line x1="69.70" y1="399.60" x2="69.70" y2="491.50" stroke="#1a1a1a" stroke-width="1"/>
<line x1="66.70" y1="491.00" x2="245.49" y2="491.00" stroke="#1a1a1a" stroke-width="1"/>
<line x1="66.70" y1="403.80" x2="69.70" y2="403.80" stroke="#1a1a1a" stroke-width="1"/>
<text x="63.10" y="406.10" font-size="6.6" text-anchor="end" fill="#222" font-weight="normal" stroke="#222" stroke-width="0.18" >1.00</text>
<line x1="66.70" y1="425.60" x2="69.70" y2="425.60" stroke="#1a1a1a" stroke-width="1"/>
<text x="63.10" y="427.90" font-size="6.6" text-anchor="end" fill="#222" font-weight="normal" stroke="#222" stroke-width="0.18" >0.75</text>
<line x1="66.70" y1="447.40" x2="69.70" y2="447.40" stroke="#1a1a1a" stroke-width="1"/>
<text x="63.10" y="449.70" font-size="6.6" text-anchor="end" fill="#222" font-weight="normal" stroke="#222" stroke-width="0.18" >0.50</text>
<line x1="66.70" y1="469.20" x2="69.70" y2="469.20" stroke="#1a1a1a" stroke-width="1"/>
<text x="63.10" y="471.50" font-size="6.6" text-anchor="end" fill="#222" font-weight="normal" stroke="#222" stroke-width="0.18" >0.25</text>
<line x1="66.70" y1="491.00" x2="69.70" y2="491.00" stroke="#1a1a1a" stroke-width="1"/>
<text x="63.10" y="493.30" font-size="6.6" text-anchor="end" fill="#222" font-weight="normal" stroke="#222" stroke-width="0.18" >0.00</text>
<text transform="translate(44.70,445.40) rotate(-90)" font-size="7.4" font-weight="bold" text-anchor="middle" fill="#222" stroke="#222" stroke-width="0.05" textLength="59" lengthAdjust="spacingAndGlyphs">Normalized expression</text>
<rect x="72.40" y="403.80" width="5.00" height="87.20" fill="#4d5767"/>
<line x1="74.90" y1="393.70" x2="74.90" y2="403.80" stroke="#2b2b2b" stroke-width="1"/>
<line x1="73.70" y1="393.70" x2="76.10" y2="393.70" stroke="#2b2b2b" stroke-width="1.3"/>
<line x1="74.90" y1="491.00" x2="74.90" y2="494.00" stroke="#1a1a1a" stroke-width="1"/>
<rect x="81.05" y="403.80" width="5.00" height="87.20" fill="#4d5767"/>
<line x1="83.55" y1="401.50" x2="83.55" y2="403.80" stroke="#2b2b2b" stroke-width="1"/>
<line x1="82.35" y1="401.50" x2="84.75" y2="401.50" stroke="#2b2b2b" stroke-width="1.3"/>
<line x1="83.55" y1="491.00" x2="83.55" y2="494.00" stroke="#1a1a1a" stroke-width="1"/>
<rect x="94.82" y="463.30" width="5.00" height="27.70" fill="#0c4c84"/>
<line x1="97.32" y1="455.20" x2="97.32" y2="463.30" stroke="#2b2b2b" stroke-width="1"/>
<line x1="96.12" y1="455.20" x2="98.52" y2="455.20" stroke="#2b2b2b" stroke-width="1.3"/>
<line x1="97.32" y1="491.00" x2="97.32" y2="494.00" stroke="#1a1a1a" stroke-width="1"/>
<circle cx="97.32" cy="451.00" r="1.1" fill="#222"/>
<rect x="103.47" y="458.00" width="5.00" height="33.00" fill="#0c4c84"/>
<line x1="105.97" y1="456.00" x2="105.97" y2="458.00" stroke="#2b2b2b" stroke-width="1"/>
<line x1="104.77" y1="456.00" x2="107.17" y2="456.00" stroke="#2b2b2b" stroke-width="1.3"/>
<line x1="105.97" y1="491.00" x2="105.97" y2="494.00" stroke="#1a1a1a" stroke-width="1"/>
<circle cx="105.97" cy="451.80" r="1.1" fill="#222"/>
<rect x="117.24" y="407.10" width="5.00" height="83.90" fill="#e6037d"/>
<line x1="119.74" y1="403.00" x2="119.74" y2="407.10" stroke="#2b2b2b" stroke-width="1"/>
<line x1="118.54" y1="403.00" x2="120.94" y2="403.00" stroke="#2b2b2b" stroke-width="1.3"/>
<line x1="119.74" y1="491.00" x2="119.74" y2="494.00" stroke="#1a1a1a" stroke-width="1"/>
<rect x="125.89" y="405.20" width="5.00" height="85.80" fill="#e6037d"/>
<line x1="128.39" y1="404.00" x2="128.39" y2="405.20" stroke="#2b2b2b" stroke-width="1"/>
<line x1="127.19" y1="404.00" x2="129.59" y2="404.00" stroke="#2b2b2b" stroke-width="1.3"/>
<line x1="128.39" y1="491.00" x2="128.39" y2="494.00" stroke="#1a1a1a" stroke-width="1"/>
<rect x="139.66" y="408.00" width="5.00" height="83.00" fill="#c4021f"/>
<line x1="142.16" y1="403.00" x2="142.16" y2="408.00" stroke="#2b2b2b" stroke-width="1"/>
<line x1="140.96" y1="403.00" x2="143.36" y2="403.00" stroke="#2b2b2b" stroke-width="1.3"/>
<line x1="142.16" y1="491.00" x2="142.16" y2="494.00" stroke="#1a1a1a" stroke-width="1"/>
<rect x="148.31" y="408.00" width="5.00" height="83.00" fill="#c4021f"/>
<line x1="150.81" y1="406.00" x2="150.81" y2="408.00" stroke="#2b2b2b" stroke-width="1"/>
<line x1="149.61" y1="406.00" x2="152.01" y2="406.00" stroke="#2b2b2b" stroke-width="1.3"/>
<line x1="150.81" y1="491.00" x2="150.81" y2="494.00" stroke="#1a1a1a" stroke-width="1"/>
<rect x="162.08" y="407.70" width="5.00" height="83.30" fill="#6b3a12"/>
<line x1="164.58" y1="399.40" x2="164.58" y2="407.70" stroke="#2b2b2b" stroke-width="1"/>
<line x1="163.38" y1="399.40" x2="165.78" y2="399.40" stroke="#2b2b2b" stroke-width="1.3"/>
<line x1="164.58" y1="491.00" x2="164.58" y2="494.00" stroke="#1a1a1a" stroke-width="1"/>
<rect x="170.73" y="406.70" width="5.00" height="84.30" fill="#6b3a12"/>
<line x1="173.23" y1="404.00" x2="173.23" y2="406.70" stroke="#2b2b2b" stroke-width="1"/>
<line x1="172.03" y1="404.00" x2="174.43" y2="404.00" stroke="#2b2b2b" stroke-width="1.3"/>
<line x1="173.23" y1="491.00" x2="173.23" y2="494.00" stroke="#1a1a1a" stroke-width="1"/>
<rect x="184.50" y="470.00" width="5.00" height="21.00" fill="#9284c8"/>
<line x1="187.00" y1="463.70" x2="187.00" y2="470.00" stroke="#2b2b2b" stroke-width="1"/>
<line x1="185.80" y1="463.70" x2="188.20" y2="463.70" stroke="#2b2b2b" stroke-width="1.3"/>
<line x1="187.00" y1="491.00" x2="187.00" y2="494.00" stroke="#1a1a1a" stroke-width="1"/>
<circle cx="187.00" cy="459.50" r="1.1" fill="#222"/>
<rect x="193.15" y="479.40" width="5.00" height="11.60" fill="#9284c8"/>
<line x1="195.65" y1="476.00" x2="195.65" y2="479.40" stroke="#2b2b2b" stroke-width="1"/>
<line x1="194.45" y1="476.00" x2="196.85" y2="476.00" stroke="#2b2b2b" stroke-width="1.3"/>
<line x1="195.65" y1="491.00" x2="195.65" y2="494.00" stroke="#1a1a1a" stroke-width="1"/>
<circle cx="195.65" cy="471.80" r="1.1" fill="#222"/>
<rect x="206.92" y="467.00" width="5.00" height="24.00" fill="#814c8e"/>
<line x1="209.42" y1="461.30" x2="209.42" y2="467.00" stroke="#2b2b2b" stroke-width="1"/>
<line x1="208.22" y1="461.30" x2="210.62" y2="461.30" stroke="#2b2b2b" stroke-width="1.3"/>
<line x1="209.42" y1="491.00" x2="209.42" y2="494.00" stroke="#1a1a1a" stroke-width="1"/>
<circle cx="209.42" cy="457.10" r="1.1" fill="#222"/>
<rect x="215.57" y="479.50" width="5.00" height="11.50" fill="#814c8e"/>
<line x1="218.07" y1="476.60" x2="218.07" y2="479.50" stroke="#2b2b2b" stroke-width="1"/>
<line x1="216.87" y1="476.60" x2="219.27" y2="476.60" stroke="#2b2b2b" stroke-width="1.3"/>
<line x1="218.07" y1="491.00" x2="218.07" y2="494.00" stroke="#1a1a1a" stroke-width="1"/>
<circle cx="218.07" cy="472.40" r="1.1" fill="#222"/>
<rect x="229.34" y="472.10" width="5.00" height="18.90" fill="#5c1668"/>
<line x1="231.84" y1="467.30" x2="231.84" y2="472.10" stroke="#2b2b2b" stroke-width="1"/>
<line x1="230.64" y1="467.30" x2="233.04" y2="467.30" stroke="#2b2b2b" stroke-width="1.3"/>
<line x1="231.84" y1="491.00" x2="231.84" y2="494.00" stroke="#1a1a1a" stroke-width="1"/>
<circle cx="231.84" cy="463.10" r="1.1" fill="#222"/>
<rect x="237.99" y="480.00" width="5.00" height="11.00" fill="#5c1668"/>
<line x1="240.49" y1="478.40" x2="240.49" y2="480.00" stroke="#2b2b2b" stroke-width="1"/>
<line x1="239.29" y1="478.40" x2="241.69" y2="478.40" stroke="#2b2b2b" stroke-width="1.3"/>
<line x1="240.49" y1="491.00" x2="240.49" y2="494.00" stroke="#1a1a1a" stroke-width="1"/>
<circle cx="240.49" cy="474.20" r="1.1" fill="#222"/>
<path d="M119.74,401.50 V398.50 H187.00 V401.50" fill="none" stroke="#3a3a3a" stroke-width="1.0"/>
<text x="153.37" y="398.20" font-size="5.2" text-anchor="middle" fill="#333" font-weight="normal" stroke="#333" stroke-width="0.3" >#</text>
<path d="M128.39,395.30 V392.30 H195.65 V395.30" fill="none" stroke="#3a3a3a" stroke-width="1.0"/>
<text x="162.02" y="392.00" font-size="5.2" text-anchor="middle" fill="#333" font-weight="normal" stroke="#333" stroke-width="0.3" >#</text>
<path d="M142.16,389.30 V386.30 H209.42 V389.30" fill="none" stroke="#3a3a3a" stroke-width="1.0"/>
<text x="175.79" y="386.00" font-size="5.2" text-anchor="middle" fill="#333" font-weight="normal" stroke="#333" stroke-width="0.3" >#</text>
<path d="M150.81,383.40 V380.40 H218.07 V383.40" fill="none" stroke="#3a3a3a" stroke-width="1.0"/>
<text x="184.44" y="380.10" font-size="5.2" text-anchor="middle" fill="#333" font-weight="normal" stroke="#333" stroke-width="0.3" >#</text>
<path d="M164.58,377.40 V374.40 H231.84 V377.40" fill="none" stroke="#3a3a3a" stroke-width="1.0"/>
<text x="198.21" y="374.10" font-size="5.2" text-anchor="middle" fill="#333" font-weight="normal" stroke="#333" stroke-width="0.3" >#</text>
<path d="M173.23,371.70 V368.70 H240.49 V371.70" fill="none" stroke="#3a3a3a" stroke-width="1.0"/>
<text x="206.86" y="368.40" font-size="5.2" text-anchor="middle" fill="#333" font-weight="normal" stroke="#333" stroke-width="0.3" >#</text>
<text x="63.20" y="504.30" font-size="6.45" text-anchor="end" fill="#222" font-weight="normal" stroke="#222" stroke-width="0.1" >acalabrutinib (nM)</text>
<rect x="74.10" y="501.80" width="1.60" height="0.80" fill="#8a8a8a"/>
<rect x="85.14" y="501.80" width="1.60" height="0.80" fill="#8a8a8a"/>
<rect x="96.18" y="501.80" width="1.60" height="0.80" fill="#8a8a8a"/>
<rect x="107.22" y="501.80" width="1.60" height="0.80" fill="#8a8a8a"/>
<text x="119.06" y="504.30" font-size="6.45" text-anchor="middle" fill="#222" font-weight="normal" stroke="#222" stroke-width="0.1" >2</text>
<text x="130.10" y="504.30" font-size="6.45" text-anchor="middle" fill="#222" font-weight="normal" stroke="#222" stroke-width="0.1" >2</text>
<text x="141.14" y="504.30" font-size="6.45" text-anchor="middle" fill="#222" font-weight="normal" stroke="#222" stroke-width="0.1" >10</text>
<text x="152.18" y="504.30" font-size="6.45" text-anchor="middle" fill="#222" font-weight="normal" stroke="#222" stroke-width="0.1" >10</text>
<text x="163.21" y="504.30" font-size="6.45" text-anchor="middle" fill="#222" font-weight="normal" stroke="#222" stroke-width="0.1" >50</text>
<text x="174.25" y="504.30" font-size="6.45" text-anchor="middle" fill="#222" font-weight="normal" stroke="#222" stroke-width="0.1" >50</text>
<text x="185.29" y="504.30" font-size="6.45" text-anchor="middle" fill="#222" font-weight="normal" stroke="#222" stroke-width="0.1" >2</text>
<text x="196.33" y="504.30" font-size="6.45" text-anchor="middle" fill="#222" font-weight="normal" stroke="#222" stroke-width="0.1" >2</text>
<text x="207.37" y="504.30" font-size="6.45" text-anchor="middle" fill="#222" font-weight="normal" stroke="#222" stroke-width="0.1" >10</text>
<text x="218.41" y="504.30" font-size="6.45" text-anchor="middle" fill="#222" font-weight="normal" stroke="#222" stroke-width="0.1" >10</text>
<text x="229.45" y="504.30" font-size="6.45" text-anchor="middle" fill="#222" font-weight="normal" stroke="#222" stroke-width="0.1" >50</text>
<text x="240.49" y="504.30" font-size="6.45" text-anchor="middle" fill="#222" font-weight="normal" stroke="#222" stroke-width="0.1" >50</text>
<text x="63.20" y="514.50" font-size="6.45" text-anchor="end" fill="#222" font-weight="normal" stroke="#222" stroke-width="0.1" >AZD5153 (nM)</text>
<rect x="74.10" y="512.00" width="1.60" height="0.80" fill="#8a8a8a"/>
<rect x="85.14" y="512.00" width="1.60" height="0.80" fill="#8a8a8a"/>
<text x="96.98" y="514.50" font-size="6.45" text-anchor="middle" fill="#222" font-weight="normal" stroke="#222" stroke-width="0.1" >20</text>
<text x="108.02" y="514.50" font-size="6.45" text-anchor="middle" fill="#222" font-weight="normal" stroke="#222" stroke-width="0.1" >20</text>
<rect x="118.26" y="512.00" width="1.60" height="0.80" fill="#8a8a8a"/>
<rect x="129.30" y="512.00" width="1.60" height="0.80" fill="#8a8a8a"/>
<rect x="140.34" y="512.00" width="1.60" height="0.80" fill="#8a8a8a"/>
<rect x="151.38" y="512.00" width="1.60" height="0.80" fill="#8a8a8a"/>
<rect x="162.41" y="512.00" width="1.60" height="0.80" fill="#8a8a8a"/>
<rect x="173.45" y="512.00" width="1.60" height="0.80" fill="#8a8a8a"/>
<text x="185.29" y="514.50" font-size="6.45" text-anchor="middle" fill="#222" font-weight="normal" stroke="#222" stroke-width="0.1" >20</text>
<text x="196.33" y="514.50" font-size="6.45" text-anchor="middle" fill="#222" font-weight="normal" stroke="#222" stroke-width="0.1" >20</text>
<text x="207.37" y="514.50" font-size="6.45" text-anchor="middle" fill="#222" font-weight="normal" stroke="#222" stroke-width="0.1" >20</text>
<text x="218.41" y="514.50" font-size="6.45" text-anchor="middle" fill="#222" font-weight="normal" stroke="#222" stroke-width="0.1" >20</text>
<text x="229.45" y="514.50" font-size="6.45" text-anchor="middle" fill="#222" font-weight="normal" stroke="#222" stroke-width="0.1" >20</text>
<text x="240.49" y="514.50" font-size="6.45" text-anchor="middle" fill="#222" font-weight="normal" stroke="#222" stroke-width="0.1" >20</text>
<text x="63.20" y="524.50" font-size="6.45" text-anchor="end" fill="#222" font-weight="normal" stroke="#222" stroke-width="0.1" >IFN&#946; (ng/&#956;L)</text>
<rect x="74.10" y="522.00" width="1.60" height="0.80" fill="#8a8a8a"/>
<text x="85.94" y="524.50" font-size="6.45" text-anchor="middle" fill="#222" font-weight="normal" stroke="#222" stroke-width="0.1" >1</text>
<rect x="96.18" y="522.00" width="1.60" height="0.80" fill="#8a8a8a"/>
<text x="108.02" y="524.50" font-size="6.45" text-anchor="middle" fill="#222" font-weight="normal" stroke="#222" stroke-width="0.1" >1</text>
<rect x="118.26" y="522.00" width="1.60" height="0.80" fill="#8a8a8a"/>
<text x="130.10" y="524.50" font-size="6.45" text-anchor="middle" fill="#222" font-weight="normal" stroke="#222" stroke-width="0.1" >1</text>
<rect x="140.34" y="522.00" width="1.60" height="0.80" fill="#8a8a8a"/>
<text x="152.18" y="524.50" font-size="6.45" text-anchor="middle" fill="#222" font-weight="normal" stroke="#222" stroke-width="0.1" >1</text>
<rect x="162.41" y="522.00" width="1.60" height="0.80" fill="#8a8a8a"/>
<text x="174.25" y="524.50" font-size="6.45" text-anchor="middle" fill="#222" font-weight="normal" stroke="#222" stroke-width="0.1" >1</text>
<rect x="184.49" y="522.00" width="1.60" height="0.80" fill="#8a8a8a"/>
<text x="196.33" y="524.50" font-size="6.45" text-anchor="middle" fill="#222" font-weight="normal" stroke="#222" stroke-width="0.1" >1</text>
<rect x="206.57" y="522.00" width="1.60" height="0.80" fill="#8a8a8a"/>
<text x="218.41" y="524.50" font-size="6.45" text-anchor="middle" fill="#222" font-weight="normal" stroke="#222" stroke-width="0.1" >1</text>
<rect x="228.65" y="522.00" width="1.60" height="0.80" fill="#8a8a8a"/>
<text x="240.49" y="524.50" font-size="6.45" text-anchor="middle" fill="#222" font-weight="normal" stroke="#222" stroke-width="0.1" >1</text>
<text x="423.50" y="192.00" font-size="8.7" text-anchor="middle" fill="#222" font-weight="normal" stroke="#222" stroke-width="0.18" >HBL1 - EBF1</text>
<line x1="335.80" y1="222.10" x2="335.80" y2="313.80" stroke="#1a1a1a" stroke-width="1"/>
<line x1="332.80" y1="313.30" x2="510.87" y2="313.30" stroke="#1a1a1a" stroke-width="1"/>
<line x1="332.80" y1="226.30" x2="335.80" y2="226.30" stroke="#1a1a1a" stroke-width="1"/>
<text x="329.20" y="228.60" font-size="6.6" text-anchor="end" fill="#222" font-weight="normal" stroke="#222" stroke-width="0.18" >1.00</text>
<line x1="332.80" y1="248.05" x2="335.80" y2="248.05" stroke="#1a1a1a" stroke-width="1"/>
<text x="329.20" y="250.35" font-size="6.6" text-anchor="end" fill="#222" font-weight="normal" stroke="#222" stroke-width="0.18" >0.75</text>
<line x1="332.80" y1="269.80" x2="335.80" y2="269.80" stroke="#1a1a1a" stroke-width="1"/>
<text x="329.20" y="272.10" font-size="6.6" text-anchor="end" fill="#222" font-weight="normal" stroke="#222" stroke-width="0.18" >0.50</text>
<line x1="332.80" y1="291.55" x2="335.80" y2="291.55" stroke="#1a1a1a" stroke-width="1"/>
<text x="329.20" y="293.85" font-size="6.6" text-anchor="end" fill="#222" font-weight="normal" stroke="#222" stroke-width="0.18" >0.25</text>
<line x1="332.80" y1="313.30" x2="335.80" y2="313.30" stroke="#1a1a1a" stroke-width="1"/>
<text x="329.20" y="315.60" font-size="6.6" text-anchor="end" fill="#222" font-weight="normal" stroke="#222" stroke-width="0.18" >0.00</text>
<text transform="translate(310.80,267.80) rotate(-90)" font-size="7.4" font-weight="bold" text-anchor="middle" fill="#222" stroke="#222" stroke-width="0.05" textLength="59" lengthAdjust="spacingAndGlyphs">Normalized expression</text>
<rect x="338.90" y="226.30" width="5.00" height="87.00" fill="#4d5767"/>
<line x1="341.40" y1="219.00" x2="341.40" y2="226.30" stroke="#2b2b2b" stroke-width="1"/>
<line x1="340.20" y1="219.00" x2="342.60" y2="219.00" stroke="#2b2b2b" stroke-width="1.3"/>
<line x1="341.40" y1="313.30" x2="341.40" y2="316.30" stroke="#1a1a1a" stroke-width="1"/>
<rect x="347.55" y="226.30" width="5.00" height="87.00" fill="#4d5767"/>
<line x1="350.05" y1="223.00" x2="350.05" y2="226.30" stroke="#2b2b2b" stroke-width="1"/>
<line x1="348.85" y1="223.00" x2="351.25" y2="223.00" stroke="#2b2b2b" stroke-width="1.3"/>
<line x1="350.05" y1="313.30" x2="350.05" y2="316.30" stroke="#1a1a1a" stroke-width="1"/>
<rect x="361.16" y="299.80" width="5.00" height="13.50" fill="#0c4c84"/>
<line x1="363.66" y1="297.00" x2="363.66" y2="299.80" stroke="#2b2b2b" stroke-width="1"/>
<line x1="362.46" y1="297.00" x2="364.86" y2="297.00" stroke="#2b2b2b" stroke-width="1.3"/>
<line x1="363.66" y1="313.30" x2="363.66" y2="316.30" stroke="#1a1a1a" stroke-width="1"/>
<circle cx="363.66" cy="292.80" r="1.1" fill="#222"/>
<rect x="369.81" y="296.20" width="5.00" height="17.10" fill="#0c4c84"/>
<line x1="372.31" y1="295.00" x2="372.31" y2="296.20" stroke="#2b2b2b" stroke-width="1"/>
<line x1="371.11" y1="295.00" x2="373.51" y2="295.00" stroke="#2b2b2b" stroke-width="1.3"/>
<line x1="372.31" y1="313.30" x2="372.31" y2="316.30" stroke="#1a1a1a" stroke-width="1"/>
<circle cx="372.31" cy="290.80" r="1.1" fill="#222"/>
<rect x="383.42" y="299.80" width="5.00" height="13.50" fill="#e6037d"/>
<line x1="385.92" y1="297.50" x2="385.92" y2="299.80" stroke="#2b2b2b" stroke-width="1"/>
<line x1="384.72" y1="297.50" x2="387.12" y2="297.50" stroke="#2b2b2b" stroke-width="1.3"/>
<line x1="385.92" y1="313.30" x2="385.92" y2="316.30" stroke="#1a1a1a" stroke-width="1"/>
<circle cx="385.92" cy="293.30" r="1.1" fill="#222"/>
<rect x="392.07" y="238.80" width="5.00" height="74.50" fill="#e6037d"/>
<line x1="394.57" y1="236.50" x2="394.57" y2="238.80" stroke="#2b2b2b" stroke-width="1"/>
<line x1="393.37" y1="236.50" x2="395.77" y2="236.50" stroke="#2b2b2b" stroke-width="1.3"/>
<line x1="394.57" y1="313.30" x2="394.57" y2="316.30" stroke="#1a1a1a" stroke-width="1"/>
<rect x="405.68" y="295.80" width="5.00" height="17.50" fill="#c4021f"/>
<line x1="408.18" y1="292.00" x2="408.18" y2="295.80" stroke="#2b2b2b" stroke-width="1"/>
<line x1="406.98" y1="292.00" x2="409.38" y2="292.00" stroke="#2b2b2b" stroke-width="1.3"/>
<line x1="408.18" y1="313.30" x2="408.18" y2="316.30" stroke="#1a1a1a" stroke-width="1"/>
<circle cx="408.18" cy="287.80" r="1.1" fill="#222"/>
<rect x="414.33" y="233.10" width="5.00" height="80.20" fill="#c4021f"/>
<line x1="416.83" y1="231.00" x2="416.83" y2="233.10" stroke="#2b2b2b" stroke-width="1"/>
<line x1="415.63" y1="231.00" x2="418.03" y2="231.00" stroke="#2b2b2b" stroke-width="1.3"/>
<line x1="416.83" y1="313.30" x2="416.83" y2="316.30" stroke="#1a1a1a" stroke-width="1"/>
<rect x="427.94" y="308.40" width="5.00" height="4.90" fill="#6b3a12"/>
<line x1="430.44" y1="307.00" x2="430.44" y2="308.40" stroke="#2b2b2b" stroke-width="1"/>
<line x1="429.24" y1="307.00" x2="431.64" y2="307.00" stroke="#2b2b2b" stroke-width="1.3"/>
<line x1="430.44" y1="313.30" x2="430.44" y2="316.30" stroke="#1a1a1a" stroke-width="1"/>
<circle cx="430.44" cy="302.80" r="1.1" fill="#222"/>
<rect x="436.59" y="229.90" width="5.00" height="83.40" fill="#6b3a12"/>
<line x1="439.09" y1="225.80" x2="439.09" y2="229.90" stroke="#2b2b2b" stroke-width="1"/>
<line x1="437.89" y1="225.80" x2="440.29" y2="225.80" stroke="#2b2b2b" stroke-width="1.3"/>
<line x1="439.09" y1="313.30" x2="439.09" y2="316.30" stroke="#1a1a1a" stroke-width="1"/>
<rect x="450.20" y="296.30" width="5.00" height="17.00" fill="#9284c8"/>
<line x1="452.70" y1="294.00" x2="452.70" y2="296.30" stroke="#2b2b2b" stroke-width="1"/>
<line x1="451.50" y1="294.00" x2="453.90" y2="294.00" stroke="#2b2b2b" stroke-width="1.3"/>
<line x1="452.70" y1="313.30" x2="452.70" y2="316.30" stroke="#1a1a1a" stroke-width="1"/>
<circle cx="452.70" cy="289.80" r="1.1" fill="#222"/>
<rect x="458.85" y="276.30" width="5.00" height="37.00" fill="#9284c8"/>
<line x1="461.35" y1="274.00" x2="461.35" y2="276.30" stroke="#2b2b2b" stroke-width="1"/>
<line x1="460.15" y1="274.00" x2="462.55" y2="274.00" stroke="#2b2b2b" stroke-width="1.3"/>
<line x1="461.35" y1="313.30" x2="461.35" y2="316.30" stroke="#1a1a1a" stroke-width="1"/>
<circle cx="461.35" cy="269.80" r="1.1" fill="#222"/>
<rect x="472.46" y="300.60" width="5.00" height="12.70" fill="#814c8e"/>
<line x1="474.96" y1="299.00" x2="474.96" y2="300.60" stroke="#2b2b2b" stroke-width="1"/>
<line x1="473.76" y1="299.00" x2="476.16" y2="299.00" stroke="#2b2b2b" stroke-width="1.3"/>
<line x1="474.96" y1="313.30" x2="474.96" y2="316.30" stroke="#1a1a1a" stroke-width="1"/>
<circle cx="474.96" cy="294.80" r="1.1" fill="#222"/>
<rect x="481.11" y="279.20" width="5.00" height="34.10" fill="#814c8e"/>
<line x1="483.61" y1="276.50" x2="483.61" y2="279.20" stroke="#2b2b2b" stroke-width="1"/>
<line x1="482.41" y1="276.50" x2="484.81" y2="276.50" stroke="#2b2b2b" stroke-width="1.3"/>
<line x1="483.61" y1="313.30" x2="483.61" y2="316.30" stroke="#1a1a1a" stroke-width="1"/>
<circle cx="483.61" cy="272.30" r="1.1" fill="#222"/>
<rect x="494.72" y="312.00" width="5.00" height="1.30" fill="#5c1668"/>
<line x1="497.22" y1="311.50" x2="497.22" y2="312.00" stroke="#2b2b2b" stroke-width="1"/>
<line x1="496.02" y1="311.50" x2="498.42" y2="311.50" stroke="#2b2b2b" stroke-width="1.3"/>
<line x1="497.22" y1="313.30" x2="497.22" y2="316.30" stroke="#1a1a1a" stroke-width="1"/>
<circle cx="497.22" cy="307.30" r="1.1" fill="#222"/>
<rect x="503.37" y="287.40" width="5.00" height="25.90" fill="#5c1668"/>
<line x1="505.87" y1="285.00" x2="505.87" y2="287.40" stroke="#2b2b2b" stroke-width="1"/>
<line x1="504.67" y1="285.00" x2="507.07" y2="285.00" stroke="#2b2b2b" stroke-width="1.3"/>
<line x1="505.87" y1="313.30" x2="505.87" y2="316.30" stroke="#1a1a1a" stroke-width="1"/>
<circle cx="505.87" cy="280.80" r="1.1" fill="#222"/>
<path d="M394.57,226.60 V223.60 H461.35 V226.60" fill="none" stroke="#3a3a3a" stroke-width="1.0"/>
<text x="427.96" y="223.30" font-size="5.2" text-anchor="middle" fill="#333" font-weight="normal" stroke="#333" stroke-width="0.3" >#</text>
<path d="M416.83,219.60 V216.60 H483.61 V219.60" fill="none" stroke="#3a3a3a" stroke-width="1.0"/>
<text x="450.22" y="216.30" font-size="5.2" text-anchor="middle" fill="#333" font-weight="normal" stroke="#333" stroke-width="0.3" >#</text>
<path d="M439.09,212.10 V209.10 H505.87 V212.10" fill="none" stroke="#3a3a3a" stroke-width="1.0"/>
<text x="472.48" y="208.80" font-size="5.2" text-anchor="middle" fill="#333" font-weight="normal" stroke="#333" stroke-width="0.3" >#</text>
<text x="329.20" y="325.90" font-size="6.45" text-anchor="end" fill="#222" font-weight="normal" stroke="#222" stroke-width="0.1" >acalabrutinib (nM)</text>
<rect x="340.60" y="323.40" width="1.60" height="0.80" fill="#8a8a8a"/>
<rect x="351.56" y="323.40" width="1.60" height="0.80" fill="#8a8a8a"/>
<rect x="362.53" y="323.40" width="1.60" height="0.80" fill="#8a8a8a"/>
<rect x="373.49" y="323.40" width="1.60" height="0.80" fill="#8a8a8a"/>
<text x="385.26" y="325.90" font-size="6.45" text-anchor="middle" fill="#222" font-weight="normal" stroke="#222" stroke-width="0.1" >2</text>
<text x="396.22" y="325.90" font-size="6.45" text-anchor="middle" fill="#222" font-weight="normal" stroke="#222" stroke-width="0.1" >2</text>
<text x="407.19" y="325.90" font-size="6.45" text-anchor="middle" fill="#222" font-weight="normal" stroke="#222" stroke-width="0.1" >10</text>
<text x="418.15" y="325.90" font-size="6.45" text-anchor="middle" fill="#222" font-weight="normal" stroke="#222" stroke-width="0.1" >10</text>
<text x="429.12" y="325.90" font-size="6.45" text-anchor="middle" fill="#222" font-weight="normal" stroke="#222" stroke-width="0.1" >50</text>
<text x="440.08" y="325.90" font-size="6.45" text-anchor="middle" fill="#222" font-weight="normal" stroke="#222" stroke-width="0.1" >50</text>
<text x="451.05" y="325.90" font-size="6.45" text-anchor="middle" fill="#222" font-weight="normal" stroke="#222" stroke-width="0.1" >2</text>
<text x="462.01" y="325.90" font-size="6.45" text-anchor="middle" fill="#222" font-weight="normal" stroke="#222" stroke-width="0.1" >2</text>
<text x="472.98" y="325.90" font-size="6.45" text-anchor="middle" fill="#222" font-weight="normal" stroke="#222" stroke-width="0.1" >10</text>
<text x="483.94" y="325.90" font-size="6.45" text-anchor="middle" fill="#222" font-weight="normal" stroke="#222" stroke-width="0.1" >10</text>
<text x="494.91" y="325.90" font-size="6.45" text-anchor="middle" fill="#222" font-weight="normal" stroke="#222" stroke-width="0.1" >50</text>
<text x="505.87" y="325.90" font-size="6.45" text-anchor="middle" fill="#222" font-weight="normal" stroke="#222" stroke-width="0.1" >50</text>
<text x="329.20" y="336.40" font-size="6.45" text-anchor="end" fill="#222" font-weight="normal" stroke="#222" stroke-width="0.1" >AZD5153 (nM)</text>
<rect x="340.60" y="333.90" width="1.60" height="0.80" fill="#8a8a8a"/>
<rect x="351.56" y="333.90" width="1.60" height="0.80" fill="#8a8a8a"/>
<text x="363.33" y="336.40" font-size="6.45" text-anchor="middle" fill="#222" font-weight="normal" stroke="#222" stroke-width="0.1" >20</text>
<text x="374.29" y="336.40" font-size="6.45" text-anchor="middle" fill="#222" font-weight="normal" stroke="#222" stroke-width="0.1" >20</text>
<rect x="384.46" y="333.90" width="1.60" height="0.80" fill="#8a8a8a"/>
<rect x="395.42" y="333.90" width="1.60" height="0.80" fill="#8a8a8a"/>
<rect x="406.39" y="333.90" width="1.60" height="0.80" fill="#8a8a8a"/>
<rect x="417.35" y="333.90" width="1.60" height="0.80" fill="#8a8a8a"/>
<rect x="428.32" y="333.90" width="1.60" height="0.80" fill="#8a8a8a"/>
<rect x="439.28" y="333.90" width="1.60" height="0.80" fill="#8a8a8a"/>
<text x="451.05" y="336.40" font-size="6.45" text-anchor="middle" fill="#222" font-weight="normal" stroke="#222" stroke-width="0.1" >20</text>
<text x="462.01" y="336.40" font-size="6.45" text-anchor="middle" fill="#222" font-weight="normal" stroke="#222" stroke-width="0.1" >20</text>
<text x="472.98" y="336.40" font-size="6.45" text-anchor="middle" fill="#222" font-weight="normal" stroke="#222" stroke-width="0.1" >20</text>
<text x="483.94" y="336.40" font-size="6.45" text-anchor="middle" fill="#222" font-weight="normal" stroke="#222" stroke-width="0.1" >20</text>
<text x="494.91" y="336.40" font-size="6.45" text-anchor="middle" fill="#222" font-weight="normal" stroke="#222" stroke-width="0.1" >20</text>
<text x="505.87" y="336.40" font-size="6.45" text-anchor="middle" fill="#222" font-weight="normal" stroke="#222" stroke-width="0.1" >20</text>
<text x="329.20" y="346.10" font-size="6.45" text-anchor="end" fill="#222" font-weight="normal" stroke="#222" stroke-width="0.1" >IFN&#946; (ng/&#956;L)</text>
<rect x="340.60" y="343.60" width="1.60" height="0.80" fill="#8a8a8a"/>
<text x="352.36" y="346.10" font-size="6.45" text-anchor="middle" fill="#222" font-weight="normal" stroke="#222" stroke-width="0.1" >1</text>
<rect x="362.53" y="343.60" width="1.60" height="0.80" fill="#8a8a8a"/>
<text x="374.29" y="346.10" font-size="6.45" text-anchor="middle" fill="#222" font-weight="normal" stroke="#222" stroke-width="0.1" >1</text>
<rect x="384.46" y="343.60" width="1.60" height="0.80" fill="#8a8a8a"/>
<text x="396.22" y="346.10" font-size="6.45" text-anchor="middle" fill="#222" font-weight="normal" stroke="#222" stroke-width="0.1" >1</text>
<rect x="406.39" y="343.60" width="1.60" height="0.80" fill="#8a8a8a"/>
<text x="418.15" y="346.10" font-size="6.45" text-anchor="middle" fill="#222" font-weight="normal" stroke="#222" stroke-width="0.1" >1</text>
<rect x="428.32" y="343.60" width="1.60" height="0.80" fill="#8a8a8a"/>
<text x="440.08" y="346.10" font-size="6.45" text-anchor="middle" fill="#222" font-weight="normal" stroke="#222" stroke-width="0.1" >1</text>
<rect x="450.25" y="343.60" width="1.60" height="0.80" fill="#8a8a8a"/>
<text x="462.01" y="346.10" font-size="6.45" text-anchor="middle" fill="#222" font-weight="normal" stroke="#222" stroke-width="0.1" >1</text>
<rect x="472.18" y="343.60" width="1.60" height="0.80" fill="#8a8a8a"/>
<text x="483.94" y="346.10" font-size="6.45" text-anchor="middle" fill="#222" font-weight="normal" stroke="#222" stroke-width="0.1" >1</text>
<rect x="494.11" y="343.60" width="1.60" height="0.80" fill="#8a8a8a"/>
<text x="505.87" y="346.10" font-size="6.45" text-anchor="middle" fill="#222" font-weight="normal" stroke="#222" stroke-width="0.1" >1</text>
<text x="423.00" y="365.70" font-size="8.7" text-anchor="middle" fill="#222" font-weight="normal" stroke="#222" stroke-width="0.18" >Ri-1 - EBF1</text>
<line x1="334.80" y1="398.90" x2="334.80" y2="491.60" stroke="#1a1a1a" stroke-width="1"/>
<line x1="331.80" y1="491.10" x2="510.63" y2="491.10" stroke="#1a1a1a" stroke-width="1"/>
<line x1="331.80" y1="403.10" x2="334.80" y2="403.10" stroke="#1a1a1a" stroke-width="1"/>
<text x="328.20" y="405.40" font-size="6.6" text-anchor="end" fill="#222" font-weight="normal" stroke="#222" stroke-width="0.18" >1.00</text>
<line x1="331.80" y1="425.10" x2="334.80" y2="425.10" stroke="#1a1a1a" stroke-width="1"/>
<text x="328.20" y="427.40" font-size="6.6" text-anchor="end" fill="#222" font-weight="normal" stroke="#222" stroke-width="0.18" >0.75</text>
<line x1="331.80" y1="447.10" x2="334.80" y2="447.10" stroke="#1a1a1a" stroke-width="1"/>
<text x="328.20" y="449.40" font-size="6.6" text-anchor="end" fill="#222" font-weight="normal" stroke="#222" stroke-width="0.18" >0.50</text>
<line x1="331.80" y1="469.10" x2="334.80" y2="469.10" stroke="#1a1a1a" stroke-width="1"/>
<text x="328.20" y="471.40" font-size="6.6" text-anchor="end" fill="#222" font-weight="normal" stroke="#222" stroke-width="0.18" >0.25</text>
<line x1="331.80" y1="491.10" x2="334.80" y2="491.10" stroke="#1a1a1a" stroke-width="1"/>
<text x="328.20" y="493.40" font-size="6.6" text-anchor="end" fill="#222" font-weight="normal" stroke="#222" stroke-width="0.18" >0.00</text>
<text transform="translate(309.80,445.10) rotate(-90)" font-size="7.4" font-weight="bold" text-anchor="middle" fill="#222" stroke="#222" stroke-width="0.05" textLength="59" lengthAdjust="spacingAndGlyphs">Normalized expression</text>
<rect x="337.40" y="403.10" width="5.00" height="88.00" fill="#4d5767"/>
<line x1="339.90" y1="395.40" x2="339.90" y2="403.10" stroke="#2b2b2b" stroke-width="1"/>
<line x1="338.70" y1="395.40" x2="341.10" y2="395.40" stroke="#2b2b2b" stroke-width="1.3"/>
<line x1="339.90" y1="491.10" x2="339.90" y2="494.10" stroke="#1a1a1a" stroke-width="1"/>
<rect x="346.05" y="403.10" width="5.00" height="88.00" fill="#4d5767"/>
<line x1="348.55" y1="400.60" x2="348.55" y2="403.10" stroke="#2b2b2b" stroke-width="1"/>
<line x1="347.35" y1="400.60" x2="349.75" y2="400.60" stroke="#2b2b2b" stroke-width="1.3"/>
<line x1="348.55" y1="491.10" x2="348.55" y2="494.10" stroke="#1a1a1a" stroke-width="1"/>
<rect x="359.84" y="463.10" width="5.00" height="28.00" fill="#0c4c84"/>
<line x1="362.34" y1="458.30" x2="362.34" y2="463.10" stroke="#2b2b2b" stroke-width="1"/>
<line x1="361.14" y1="458.30" x2="363.54" y2="458.30" stroke="#2b2b2b" stroke-width="1.3"/>
<line x1="362.34" y1="491.10" x2="362.34" y2="494.10" stroke="#1a1a1a" stroke-width="1"/>
<circle cx="362.34" cy="454.10" r="1.1" fill="#222"/>
<rect x="368.49" y="458.50" width="5.00" height="32.60" fill="#0c4c84"/>
<line x1="370.99" y1="457.00" x2="370.99" y2="458.50" stroke="#2b2b2b" stroke-width="1"/>
<line x1="369.79" y1="457.00" x2="372.19" y2="457.00" stroke="#2b2b2b" stroke-width="1.3"/>
<line x1="370.99" y1="491.10" x2="370.99" y2="494.10" stroke="#1a1a1a" stroke-width="1"/>
<circle cx="370.99" cy="452.80" r="1.1" fill="#222"/>
<rect x="382.28" y="425.20" width="5.00" height="65.90" fill="#e6037d"/>
<line x1="384.78" y1="421.30" x2="384.78" y2="425.20" stroke="#2b2b2b" stroke-width="1"/>
<line x1="383.58" y1="421.30" x2="385.98" y2="421.30" stroke="#2b2b2b" stroke-width="1.3"/>
<line x1="384.78" y1="491.10" x2="384.78" y2="494.10" stroke="#1a1a1a" stroke-width="1"/>
<circle cx="384.78" cy="417.10" r="1.1" fill="#222"/>
<rect x="390.93" y="415.20" width="5.00" height="75.90" fill="#e6037d"/>
<line x1="393.43" y1="414.00" x2="393.43" y2="415.20" stroke="#2b2b2b" stroke-width="1"/>
<line x1="392.23" y1="414.00" x2="394.63" y2="414.00" stroke="#2b2b2b" stroke-width="1.3"/>
<line x1="393.43" y1="491.10" x2="393.43" y2="494.10" stroke="#1a1a1a" stroke-width="1"/>
<rect x="404.72" y="467.10" width="5.00" height="24.00" fill="#c4021f"/>
<line x1="407.22" y1="457.50" x2="407.22" y2="467.10" stroke="#2b2b2b" stroke-width="1"/>
<line x1="406.02" y1="457.50" x2="408.42" y2="457.50" stroke="#2b2b2b" stroke-width="1.3"/>
<line x1="407.22" y1="491.10" x2="407.22" y2="494.10" stroke="#1a1a1a" stroke-width="1"/>
<circle cx="407.22" cy="453.30" r="1.1" fill="#222"/>
<rect x="413.37" y="427.00" width="5.00" height="64.10" fill="#c4021f"/>
<line x1="415.87" y1="415.30" x2="415.87" y2="427.00" stroke="#2b2b2b" stroke-width="1"/>
<line x1="414.67" y1="415.30" x2="417.07" y2="415.30" stroke="#2b2b2b" stroke-width="1.3"/>
<line x1="415.87" y1="491.10" x2="415.87" y2="494.10" stroke="#1a1a1a" stroke-width="1"/>
<rect x="427.16" y="466.20" width="5.00" height="24.90" fill="#6b3a12"/>
<line x1="429.66" y1="454.30" x2="429.66" y2="466.20" stroke="#2b2b2b" stroke-width="1"/>
<line x1="428.46" y1="454.30" x2="430.86" y2="454.30" stroke="#2b2b2b" stroke-width="1.3"/>
<line x1="429.66" y1="491.10" x2="429.66" y2="494.10" stroke="#1a1a1a" stroke-width="1"/>
<circle cx="429.66" cy="450.10" r="1.1" fill="#222"/>
<rect x="435.81" y="426.80" width="5.00" height="64.30" fill="#6b3a12"/>
<line x1="438.31" y1="422.80" x2="438.31" y2="426.80" stroke="#2b2b2b" stroke-width="1"/>
<line x1="437.11" y1="422.80" x2="439.51" y2="422.80" stroke="#2b2b2b" stroke-width="1.3"/>
<line x1="438.31" y1="491.10" x2="438.31" y2="494.10" stroke="#1a1a1a" stroke-width="1"/>
<circle cx="438.31" cy="418.60" r="1.1" fill="#222"/>
<rect x="449.60" y="471.30" width="5.00" height="19.80" fill="#9284c8"/>
<line x1="452.10" y1="469.50" x2="452.10" y2="471.30" stroke="#2b2b2b" stroke-width="1"/>
<line x1="450.90" y1="469.50" x2="453.30" y2="469.50" stroke="#2b2b2b" stroke-width="1.3"/>
<line x1="452.10" y1="491.10" x2="452.10" y2="494.10" stroke="#1a1a1a" stroke-width="1"/>
<circle cx="452.10" cy="465.30" r="1.1" fill="#222"/>
<rect x="458.25" y="467.20" width="5.00" height="23.90" fill="#9284c8"/>
<line x1="460.75" y1="458.20" x2="460.75" y2="467.20" stroke="#2b2b2b" stroke-width="1"/>
<line x1="459.55" y1="458.20" x2="461.95" y2="458.20" stroke="#2b2b2b" stroke-width="1.3"/>
<line x1="460.75" y1="491.10" x2="460.75" y2="494.10" stroke="#1a1a1a" stroke-width="1"/>
<circle cx="460.75" cy="454.00" r="1.1" fill="#222"/>
<rect x="472.04" y="471.90" width="5.00" height="19.20" fill="#814c8e"/>
<line x1="474.54" y1="470.00" x2="474.54" y2="471.90" stroke="#2b2b2b" stroke-width="1"/>
<line x1="473.34" y1="470.00" x2="475.74" y2="470.00" stroke="#2b2b2b" stroke-width="1.3"/>
<line x1="474.54" y1="491.10" x2="474.54" y2="494.10" stroke="#1a1a1a" stroke-width="1"/>
<circle cx="474.54" cy="465.80" r="1.1" fill="#222"/>
<rect x="480.69" y="471.30" width="5.00" height="19.80" fill="#814c8e"/>
<line x1="483.19" y1="466.80" x2="483.19" y2="471.30" stroke="#2b2b2b" stroke-width="1"/>
<line x1="481.99" y1="466.80" x2="484.39" y2="466.80" stroke="#2b2b2b" stroke-width="1.3"/>
<line x1="483.19" y1="491.10" x2="483.19" y2="494.10" stroke="#1a1a1a" stroke-width="1"/>
<circle cx="483.19" cy="462.60" r="1.1" fill="#222"/>
<rect x="494.48" y="480.00" width="5.00" height="11.10" fill="#5c1668"/>
<line x1="496.98" y1="473.30" x2="496.98" y2="480.00" stroke="#2b2b2b" stroke-width="1"/>
<line x1="495.78" y1="473.30" x2="498.18" y2="473.30" stroke="#2b2b2b" stroke-width="1.3"/>
<line x1="496.98" y1="491.10" x2="496.98" y2="494.10" stroke="#1a1a1a" stroke-width="1"/>
<circle cx="496.98" cy="469.10" r="1.1" fill="#222"/>
<rect x="503.13" y="471.30" width="5.00" height="19.80" fill="#5c1668"/>
<line x1="505.63" y1="469.50" x2="505.63" y2="471.30" stroke="#2b2b2b" stroke-width="1"/>
<line x1="504.43" y1="469.50" x2="506.83" y2="469.50" stroke="#2b2b2b" stroke-width="1.3"/>
<line x1="505.63" y1="491.10" x2="505.63" y2="494.10" stroke="#1a1a1a" stroke-width="1"/>
<circle cx="505.63" cy="465.30" r="1.1" fill="#222"/>
<path d="M384.78,411.30 V408.30 H452.10 V411.30" fill="none" stroke="#3a3a3a" stroke-width="1.0"/>
<text x="418.44" y="408.00" font-size="5.2" text-anchor="middle" fill="#333" font-weight="normal" stroke="#333" stroke-width="0.3" >#</text>
<path d="M393.43,405.60 V402.60 H460.75 V405.60" fill="none" stroke="#3a3a3a" stroke-width="1.0"/>
<text x="427.09" y="402.30" font-size="5.2" text-anchor="middle" fill="#333" font-weight="normal" stroke="#333" stroke-width="0.3" >#</text>
<path d="M415.87,399.60 V396.60 H483.19 V399.60" fill="none" stroke="#3a3a3a" stroke-width="1.0"/>
<text x="449.53" y="396.30" font-size="5.2" text-anchor="middle" fill="#333" font-weight="normal" stroke="#333" stroke-width="0.3" >#</text>
<path d="M438.31,393.50 V390.50 H505.63 V393.50" fill="none" stroke="#3a3a3a" stroke-width="1.0"/>
<text x="471.97" y="390.20" font-size="5.2" text-anchor="middle" fill="#333" font-weight="normal" stroke="#333" stroke-width="0.3" >#</text>
<text x="328.20" y="504.30" font-size="6.45" text-anchor="end" fill="#222" font-weight="normal" stroke="#222" stroke-width="0.1" >acalabrutinib (nM)</text>
<rect x="339.10" y="501.80" width="1.60" height="0.80" fill="#8a8a8a"/>
<rect x="350.15" y="501.80" width="1.60" height="0.80" fill="#8a8a8a"/>
<rect x="361.20" y="501.80" width="1.60" height="0.80" fill="#8a8a8a"/>
<rect x="372.25" y="501.80" width="1.60" height="0.80" fill="#8a8a8a"/>
<text x="384.09" y="504.30" font-size="6.45" text-anchor="middle" fill="#222" font-weight="normal" stroke="#222" stroke-width="0.1" >2</text>
<text x="395.14" y="504.30" font-size="6.45" text-anchor="middle" fill="#222" font-weight="normal" stroke="#222" stroke-width="0.1" >2</text>
<text x="406.19" y="504.30" font-size="6.45" text-anchor="middle" fill="#222" font-weight="normal" stroke="#222" stroke-width="0.1" >10</text>
<text x="417.24" y="504.30" font-size="6.45" text-anchor="middle" fill="#222" font-weight="normal" stroke="#222" stroke-width="0.1" >10</text>
<text x="428.29" y="504.30" font-size="6.45" text-anchor="middle" fill="#222" font-weight="normal" stroke="#222" stroke-width="0.1" >50</text>
<text x="439.34" y="504.30" font-size="6.45" text-anchor="middle" fill="#222" font-weight="normal" stroke="#222" stroke-width="0.1" >50</text>
<text x="450.39" y="504.30" font-size="6.45" text-anchor="middle" fill="#222" font-weight="normal" stroke="#222" stroke-width="0.1" >2</text>
<text x="461.44" y="504.30" font-size="6.45" text-anchor="middle" fill="#222" font-weight="normal" stroke="#222" stroke-width="0.1" >2</text>
<text x="472.48" y="504.30" font-size="6.45" text-anchor="middle" fill="#222" font-weight="normal" stroke="#222" stroke-width="0.1" >10</text>
<text x="483.53" y="504.30" font-size="6.45" text-anchor="middle" fill="#222" font-weight="normal" stroke="#222" stroke-width="0.1" >10</text>
<text x="494.58" y="504.30" font-size="6.45" text-anchor="middle" fill="#222" font-weight="normal" stroke="#222" stroke-width="0.1" >50</text>
<text x="505.63" y="504.30" font-size="6.45" text-anchor="middle" fill="#222" font-weight="normal" stroke="#222" stroke-width="0.1" >50</text>
<text x="328.20" y="514.50" font-size="6.45" text-anchor="end" fill="#222" font-weight="normal" stroke="#222" stroke-width="0.1" >AZD5153 (nM)</text>
<rect x="339.10" y="512.00" width="1.60" height="0.80" fill="#8a8a8a"/>
<rect x="350.15" y="512.00" width="1.60" height="0.80" fill="#8a8a8a"/>
<text x="362.00" y="514.50" font-size="6.45" text-anchor="middle" fill="#222" font-weight="normal" stroke="#222" stroke-width="0.1" >20</text>
<text x="373.05" y="514.50" font-size="6.45" text-anchor="middle" fill="#222" font-weight="normal" stroke="#222" stroke-width="0.1" >20</text>
<rect x="383.29" y="512.00" width="1.60" height="0.80" fill="#8a8a8a"/>
<rect x="394.34" y="512.00" width="1.60" height="0.80" fill="#8a8a8a"/>
<rect x="405.39" y="512.00" width="1.60" height="0.80" fill="#8a8a8a"/>
<rect x="416.44" y="512.00" width="1.60" height="0.80" fill="#8a8a8a"/>
<rect x="427.49" y="512.00" width="1.60" height="0.80" fill="#8a8a8a"/>
<rect x="438.54" y="512.00" width="1.60" height="0.80" fill="#8a8a8a"/>
<text x="450.39" y="514.50" font-size="6.45" text-anchor="middle" fill="#222" font-weight="normal" stroke="#222" stroke-width="0.1" >20</text>
<text x="461.44" y="514.50" font-size="6.45" text-anchor="middle" fill="#222" font-weight="normal" stroke="#222" stroke-width="0.1" >20</text>
<text x="472.48" y="514.50" font-size="6.45" text-anchor="middle" fill="#222" font-weight="normal" stroke="#222" stroke-width="0.1" >20</text>
<text x="483.53" y="514.50" font-size="6.45" text-anchor="middle" fill="#222" font-weight="normal" stroke="#222" stroke-width="0.1" >20</text>
<text x="494.58" y="514.50" font-size="6.45" text-anchor="middle" fill="#222" font-weight="normal" stroke="#222" stroke-width="0.1" >20</text>
<text x="505.63" y="514.50" font-size="6.45" text-anchor="middle" fill="#222" font-weight="normal" stroke="#222" stroke-width="0.1" >20</text>
<text x="328.20" y="524.50" font-size="6.45" text-anchor="end" fill="#222" font-weight="normal" stroke="#222" stroke-width="0.1" >IFN&#946; (ng/&#956;L)</text>
<rect x="339.10" y="522.00" width="1.60" height="0.80" fill="#8a8a8a"/>
<text x="350.95" y="524.50" font-size="6.45" text-anchor="middle" fill="#222" font-weight="normal" stroke="#222" stroke-width="0.1" >1</text>
<rect x="361.20" y="522.00" width="1.60" height="0.80" fill="#8a8a8a"/>
<text x="373.05" y="524.50" font-size="6.45" text-anchor="middle" fill="#222" font-weight="normal" stroke="#222" stroke-width="0.1" >1</text>
<rect x="383.29" y="522.00" width="1.60" height="0.80" fill="#8a8a8a"/>
<text x="395.14" y="524.50" font-size="6.45" text-anchor="middle" fill="#222" font-weight="normal" stroke="#222" stroke-width="0.1" >1</text>
<rect x="405.39" y="522.00" width="1.60" height="0.80" fill="#8a8a8a"/>
<text x="417.24" y="524.50" font-size="6.45" text-anchor="middle" fill="#222" font-weight="normal" stroke="#222" stroke-width="0.1" >1</text>
<rect x="427.49" y="522.00" width="1.60" height="0.80" fill="#8a8a8a"/>
<text x="439.34" y="524.50" font-size="6.45" text-anchor="middle" fill="#222" font-weight="normal" stroke="#222" stroke-width="0.1" >1</text>
<rect x="449.59" y="522.00" width="1.60" height="0.80" fill="#8a8a8a"/>
<text x="461.44" y="524.50" font-size="6.45" text-anchor="middle" fill="#222" font-weight="normal" stroke="#222" stroke-width="0.1" >1</text>
<rect x="471.68" y="522.00" width="1.60" height="0.80" fill="#8a8a8a"/>
<text x="483.53" y="524.50" font-size="6.45" text-anchor="middle" fill="#222" font-weight="normal" stroke="#222" stroke-width="0.1" >1</text>
<rect x="493.78" y="522.00" width="1.60" height="0.80" fill="#8a8a8a"/>
<text x="505.63" y="524.50" font-size="6.45" text-anchor="middle" fill="#222" font-weight="normal" stroke="#222" stroke-width="0.1" >1</text>
<text x="218.25" y="558.10" font-size="8.7" text-anchor="middle" fill="#222" font-weight="normal" stroke="#222" stroke-width="0.18" >HBL1 - CD79B</text>
<line x1="181.70" y1="564.00" x2="181.70" y2="664.30" stroke="#1a1a1a" stroke-width="1"/>
<line x1="178.70" y1="663.80" x2="253.85" y2="663.80" stroke="#1a1a1a" stroke-width="1"/>
<line x1="178.70" y1="573.40" x2="181.70" y2="573.40" stroke="#1a1a1a" stroke-width="1"/>
<text x="175.10" y="575.70" font-size="6.6" text-anchor="end" fill="#222" font-weight="normal" stroke="#222" stroke-width="0.18" >1.00</text>
<line x1="178.70" y1="596.00" x2="181.70" y2="596.00" stroke="#1a1a1a" stroke-width="1"/>
<text x="175.10" y="598.30" font-size="6.6" text-anchor="end" fill="#222" font-weight="normal" stroke="#222" stroke-width="0.18" >0.75</text>
<line x1="178.70" y1="618.60" x2="181.70" y2="618.60" stroke="#1a1a1a" stroke-width="1"/>
<text x="175.10" y="620.90" font-size="6.6" text-anchor="end" fill="#222" font-weight="normal" stroke="#222" stroke-width="0.18" >0.50</text>
<line x1="178.70" y1="641.20" x2="181.70" y2="641.20" stroke="#1a1a1a" stroke-width="1"/>
<text x="175.10" y="643.50" font-size="6.6" text-anchor="end" fill="#222" font-weight="normal" stroke="#222" stroke-width="0.18" >0.25</text>
<line x1="178.70" y1="663.80" x2="181.70" y2="663.80" stroke="#1a1a1a" stroke-width="1"/>
<text x="175.10" y="666.10" font-size="6.6" text-anchor="end" fill="#222" font-weight="normal" stroke="#222" stroke-width="0.18" >0.00</text>
<text transform="translate(156.00,617.20) rotate(-90)" font-size="7.4" font-weight="bold" text-anchor="middle" fill="#222" stroke="#222" stroke-width="0.05" textLength="60.6" lengthAdjust="spacingAndGlyphs">Normalized expression</text>
<rect x="183.25" y="573.50" width="4.10" height="90.30" fill="#4d5767"/>
<line x1="185.30" y1="572.00" x2="185.30" y2="573.50" stroke="#2b2b2b" stroke-width="1"/>
<line x1="184.20" y1="572.00" x2="186.40" y2="572.00" stroke="#2b2b2b" stroke-width="1.3"/>
<line x1="185.30" y1="663.80" x2="185.30" y2="666.80" stroke="#1a1a1a" stroke-width="1"/>
<rect x="192.35" y="617.30" width="4.10" height="46.50" fill="#0c4c84"/>
<line x1="194.40" y1="615.00" x2="194.40" y2="617.30" stroke="#2b2b2b" stroke-width="1"/>
<line x1="193.30" y1="615.00" x2="195.50" y2="615.00" stroke="#2b2b2b" stroke-width="1.3"/>
<line x1="194.40" y1="663.80" x2="194.40" y2="666.80" stroke="#1a1a1a" stroke-width="1"/>
<circle cx="194.40" cy="610.80" r="1.1" fill="#222"/>
<rect x="201.70" y="601.20" width="4.10" height="62.60" fill="#e6037d"/>
<line x1="203.75" y1="596.80" x2="203.75" y2="601.20" stroke="#2b2b2b" stroke-width="1"/>
<line x1="202.65" y1="596.80" x2="204.85" y2="596.80" stroke="#2b2b2b" stroke-width="1.3"/>
<line x1="203.75" y1="663.80" x2="203.75" y2="666.80" stroke="#1a1a1a" stroke-width="1"/>
<circle cx="203.75" cy="592.60" r="1.1" fill="#222"/>
<rect x="211.05" y="630.20" width="4.10" height="33.60" fill="#c4021f"/>
<line x1="213.10" y1="629.00" x2="213.10" y2="630.20" stroke="#2b2b2b" stroke-width="1"/>
<line x1="212.00" y1="629.00" x2="214.20" y2="629.00" stroke="#2b2b2b" stroke-width="1.3"/>
<line x1="213.10" y1="663.80" x2="213.10" y2="666.80" stroke="#1a1a1a" stroke-width="1"/>
<circle cx="213.10" cy="624.80" r="1.1" fill="#222"/>
<rect x="220.05" y="630.20" width="4.10" height="33.60" fill="#6b3a12"/>
<line x1="222.10" y1="629.00" x2="222.10" y2="630.20" stroke="#2b2b2b" stroke-width="1"/>
<line x1="221.00" y1="629.00" x2="223.20" y2="629.00" stroke="#2b2b2b" stroke-width="1.3"/>
<line x1="222.10" y1="663.80" x2="222.10" y2="666.80" stroke="#1a1a1a" stroke-width="1"/>
<circle cx="222.10" cy="624.80" r="1.1" fill="#222"/>
<rect x="229.25" y="627.30" width="4.10" height="36.50" fill="#9284c8"/>
<line x1="231.30" y1="625.00" x2="231.30" y2="627.30" stroke="#2b2b2b" stroke-width="1"/>
<line x1="230.20" y1="625.00" x2="232.40" y2="625.00" stroke="#2b2b2b" stroke-width="1.3"/>
<line x1="231.30" y1="663.80" x2="231.30" y2="666.80" stroke="#1a1a1a" stroke-width="1"/>
<circle cx="231.30" cy="620.80" r="1.1" fill="#222"/>
<rect x="238.70" y="638.40" width="4.10" height="25.40" fill="#814c8e"/>
<line x1="240.75" y1="637.00" x2="240.75" y2="638.40" stroke="#2b2b2b" stroke-width="1"/>
<line x1="239.65" y1="637.00" x2="241.85" y2="637.00" stroke="#2b2b2b" stroke-width="1.3"/>
<line x1="240.75" y1="663.80" x2="240.75" y2="666.80" stroke="#1a1a1a" stroke-width="1"/>
<circle cx="240.75" cy="632.80" r="1.1" fill="#222"/>
<rect x="247.80" y="636.80" width="4.10" height="27.00" fill="#5c1668"/>
<line x1="249.85" y1="635.00" x2="249.85" y2="636.80" stroke="#2b2b2b" stroke-width="1"/>
<line x1="248.75" y1="635.00" x2="250.95" y2="635.00" stroke="#2b2b2b" stroke-width="1.3"/>
<line x1="249.85" y1="663.80" x2="249.85" y2="666.80" stroke="#1a1a1a" stroke-width="1"/>
<circle cx="249.85" cy="630.80" r="1.1" fill="#222"/>
<path d="M203.75,586.50 V583.00 H231.30 V586.50" fill="none" stroke="#3a3a3a" stroke-width="1.0"/>
<text x="217.53" y="582.70" font-size="5.2" text-anchor="middle" fill="#333" font-weight="normal" stroke="#333" stroke-width="0.3" >#</text>
<path d="M213.10,612.60 V609.10 H240.75 V612.60" fill="none" stroke="#3a3a3a" stroke-width="1.0"/>
<text x="226.93" y="608.80" font-size="5.2" text-anchor="middle" fill="#333" font-weight="normal" stroke="#333" stroke-width="0.3" >#</text>
<text x="175.20" y="675.70" font-size="6.45" text-anchor="end" fill="#222" font-weight="normal" stroke="#222" stroke-width="0.1" >acalabrutinib (nM)</text>
<rect x="184.50" y="673.20" width="1.60" height="0.80" fill="#8a8a8a"/>
<rect x="193.60" y="673.20" width="1.60" height="0.80" fill="#8a8a8a"/>
<text x="203.75" y="675.70" font-size="6.45" text-anchor="middle" fill="#222" font-weight="normal" stroke="#222" stroke-width="0.1" >2</text>
<text x="213.10" y="675.70" font-size="6.45" text-anchor="middle" fill="#222" font-weight="normal" stroke="#222" stroke-width="0.1" >10</text>
<text x="222.10" y="675.70" font-size="6.45" text-anchor="middle" fill="#222" font-weight="normal" stroke="#222" stroke-width="0.1" >50</text>
<text x="231.30" y="675.70" font-size="6.45" text-anchor="middle" fill="#222" font-weight="normal" stroke="#222" stroke-width="0.1" >2</text>
<text x="240.75" y="675.70" font-size="6.45" text-anchor="middle" fill="#222" font-weight="normal" stroke="#222" stroke-width="0.1" >10</text>
<text x="249.85" y="675.70" font-size="6.45" text-anchor="middle" fill="#222" font-weight="normal" stroke="#222" stroke-width="0.1" >50</text>
<text x="175.20" y="686.40" font-size="6.45" text-anchor="end" fill="#222" font-weight="normal" stroke="#222" stroke-width="0.1" >AZD5153 (nM)</text>
<rect x="184.50" y="683.90" width="1.60" height="0.80" fill="#8a8a8a"/>
<text x="194.40" y="686.40" font-size="6.45" text-anchor="middle" fill="#222" font-weight="normal" stroke="#222" stroke-width="0.1" >20</text>
<rect x="202.95" y="683.90" width="1.60" height="0.80" fill="#8a8a8a"/>
<rect x="212.30" y="683.90" width="1.60" height="0.80" fill="#8a8a8a"/>
<rect x="221.30" y="683.90" width="1.60" height="0.80" fill="#8a8a8a"/>
<text x="231.30" y="686.40" font-size="6.45" text-anchor="middle" fill="#222" font-weight="normal" stroke="#222" stroke-width="0.1" >20</text>
<text x="240.75" y="686.40" font-size="6.45" text-anchor="middle" fill="#222" font-weight="normal" stroke="#222" stroke-width="0.1" >20</text>
<text x="249.85" y="686.40" font-size="6.45" text-anchor="middle" fill="#222" font-weight="normal" stroke="#222" stroke-width="0.1" >20</text>
<text x="358.00" y="558.10" font-size="8.7" text-anchor="middle" fill="#222" font-weight="normal" stroke="#222" stroke-width="0.18" >Ri-1 - CD79B</text>
<line x1="321.70" y1="564.00" x2="321.70" y2="664.30" stroke="#1a1a1a" stroke-width="1"/>
<line x1="318.70" y1="663.80" x2="394.30" y2="663.80" stroke="#1a1a1a" stroke-width="1"/>
<line x1="318.70" y1="573.40" x2="321.70" y2="573.40" stroke="#1a1a1a" stroke-width="1"/>
<text x="315.10" y="575.70" font-size="6.6" text-anchor="end" fill="#222" font-weight="normal" stroke="#222" stroke-width="0.18" >1.00</text>
<line x1="318.70" y1="596.00" x2="321.70" y2="596.00" stroke="#1a1a1a" stroke-width="1"/>
<text x="315.10" y="598.30" font-size="6.6" text-anchor="end" fill="#222" font-weight="normal" stroke="#222" stroke-width="0.18" >0.75</text>
<line x1="318.70" y1="618.60" x2="321.70" y2="618.60" stroke="#1a1a1a" stroke-width="1"/>
<text x="315.10" y="620.90" font-size="6.6" text-anchor="end" fill="#222" font-weight="normal" stroke="#222" stroke-width="0.18" >0.50</text>
<line x1="318.70" y1="641.20" x2="321.70" y2="641.20" stroke="#1a1a1a" stroke-width="1"/>
<text x="315.10" y="643.50" font-size="6.6" text-anchor="end" fill="#222" font-weight="normal" stroke="#222" stroke-width="0.18" >0.25</text>
<line x1="318.70" y1="663.80" x2="321.70" y2="663.80" stroke="#1a1a1a" stroke-width="1"/>
<text x="315.10" y="666.10" font-size="6.6" text-anchor="end" fill="#222" font-weight="normal" stroke="#222" stroke-width="0.18" >0.00</text>
<text transform="translate(296.00,617.20) rotate(-90)" font-size="7.4" font-weight="bold" text-anchor="middle" fill="#222" stroke="#222" stroke-width="0.05" textLength="60.6" lengthAdjust="spacingAndGlyphs">Normalized expression</text>
<rect x="323.65" y="573.50" width="4.10" height="90.30" fill="#4d5767"/>
<line x1="325.70" y1="570.30" x2="325.70" y2="573.50" stroke="#2b2b2b" stroke-width="1"/>
<line x1="324.60" y1="570.30" x2="326.80" y2="570.30" stroke="#2b2b2b" stroke-width="1.3"/>
<line x1="325.70" y1="663.80" x2="325.70" y2="666.80" stroke="#1a1a1a" stroke-width="1"/>
<rect x="332.85" y="635.60" width="4.10" height="28.20" fill="#0c4c84"/>
<line x1="334.90" y1="631.30" x2="334.90" y2="635.60" stroke="#2b2b2b" stroke-width="1"/>
<line x1="333.80" y1="631.30" x2="336.00" y2="631.30" stroke="#2b2b2b" stroke-width="1.3"/>
<line x1="334.90" y1="663.80" x2="334.90" y2="666.80" stroke="#1a1a1a" stroke-width="1"/>
<circle cx="334.90" cy="627.10" r="1.1" fill="#222"/>
<rect x="341.85" y="597.70" width="4.10" height="66.10" fill="#e6037d"/>
<line x1="343.90" y1="591.40" x2="343.90" y2="597.70" stroke="#2b2b2b" stroke-width="1"/>
<line x1="342.80" y1="591.40" x2="345.00" y2="591.40" stroke="#2b2b2b" stroke-width="1.3"/>
<line x1="343.90" y1="663.80" x2="343.90" y2="666.80" stroke="#1a1a1a" stroke-width="1"/>
<rect x="351.35" y="633.70" width="4.10" height="30.10" fill="#c4021f"/>
<line x1="353.40" y1="631.50" x2="353.40" y2="633.70" stroke="#2b2b2b" stroke-width="1"/>
<line x1="352.30" y1="631.50" x2="354.50" y2="631.50" stroke="#2b2b2b" stroke-width="1.3"/>
<line x1="353.40" y1="663.80" x2="353.40" y2="666.80" stroke="#1a1a1a" stroke-width="1"/>
<circle cx="353.40" cy="627.30" r="1.1" fill="#222"/>
<rect x="360.45" y="641.60" width="4.10" height="22.20" fill="#6b3a12"/>
<line x1="362.50" y1="639.50" x2="362.50" y2="641.60" stroke="#2b2b2b" stroke-width="1"/>
<line x1="361.40" y1="639.50" x2="363.60" y2="639.50" stroke="#2b2b2b" stroke-width="1.3"/>
<line x1="362.50" y1="663.80" x2="362.50" y2="666.80" stroke="#1a1a1a" stroke-width="1"/>
<circle cx="362.50" cy="635.30" r="1.1" fill="#222"/>
<rect x="369.95" y="638.40" width="4.10" height="25.40" fill="#9284c8"/>
<line x1="372.00" y1="635.50" x2="372.00" y2="638.40" stroke="#2b2b2b" stroke-width="1"/>
<line x1="370.90" y1="635.50" x2="373.10" y2="635.50" stroke="#2b2b2b" stroke-width="1.3"/>
<line x1="372.00" y1="663.80" x2="372.00" y2="666.80" stroke="#1a1a1a" stroke-width="1"/>
<circle cx="372.00" cy="631.30" r="1.1" fill="#222"/>
<rect x="379.10" y="641.90" width="4.10" height="21.90" fill="#814c8e"/>
<line x1="381.15" y1="638.50" x2="381.15" y2="641.90" stroke="#2b2b2b" stroke-width="1"/>
<line x1="380.05" y1="638.50" x2="382.25" y2="638.50" stroke="#2b2b2b" stroke-width="1.3"/>
<line x1="381.15" y1="663.80" x2="381.15" y2="666.80" stroke="#1a1a1a" stroke-width="1"/>
<circle cx="381.15" cy="634.30" r="1.1" fill="#222"/>
<rect x="388.25" y="642.40" width="4.10" height="21.40" fill="#5c1668"/>
<line x1="390.30" y1="638.50" x2="390.30" y2="642.40" stroke="#2b2b2b" stroke-width="1"/>
<line x1="389.20" y1="638.50" x2="391.40" y2="638.50" stroke="#2b2b2b" stroke-width="1.3"/>
<line x1="390.30" y1="663.80" x2="390.30" y2="666.80" stroke="#1a1a1a" stroke-width="1"/>
<circle cx="390.30" cy="634.30" r="1.1" fill="#222"/>
<path d="M343.90,586.50 V583.00 H372.00 V586.50" fill="none" stroke="#3a3a3a" stroke-width="1.0"/>
<text x="357.95" y="582.70" font-size="5.2" text-anchor="middle" fill="#333" font-weight="normal" stroke="#333" stroke-width="0.3" >#</text>
<text x="315.20" y="675.70" font-size="6.45" text-anchor="end" fill="#222" font-weight="normal" stroke="#222" stroke-width="0.1" >acalabrutinib (nM)</text>
<rect x="324.90" y="673.20" width="1.60" height="0.80" fill="#8a8a8a"/>
<rect x="334.10" y="673.20" width="1.60" height="0.80" fill="#8a8a8a"/>
<text x="343.90" y="675.70" font-size="6.45" text-anchor="middle" fill="#222" font-weight="normal" stroke="#222" stroke-width="0.1" >2</text>
<text x="353.40" y="675.70" font-size="6.45" text-anchor="middle" fill="#222" font-weight="normal" stroke="#222" stroke-width="0.1" >10</text>
<text x="362.50" y="675.70" font-size="6.45" text-anchor="middle" fill="#222" font-weight="normal" stroke="#222" stroke-width="0.1" >50</text>
<text x="372.00" y="675.70" font-size="6.45" text-anchor="middle" fill="#222" font-weight="normal" stroke="#222" stroke-width="0.1" >2</text>
<text x="381.15" y="675.70" font-size="6.45" text-anchor="middle" fill="#222" font-weight="normal" stroke="#222" stroke-width="0.1" >10</text>
<text x="390.30" y="675.70" font-size="6.45" text-anchor="middle" fill="#222" font-weight="normal" stroke="#222" stroke-width="0.1" >50</text>
<text x="315.20" y="686.40" font-size="6.45" text-anchor="end" fill="#222" font-weight="normal" stroke="#222" stroke-width="0.1" >AZD5153 (nM)</text>
<rect x="324.90" y="683.90" width="1.60" height="0.80" fill="#8a8a8a"/>
<text x="334.90" y="686.40" font-size="6.45" text-anchor="middle" fill="#222" font-weight="normal" stroke="#222" stroke-width="0.1" >20</text>
<rect x="343.10" y="683.90" width="1.60" height="0.80" fill="#8a8a8a"/>
<rect x="352.60" y="683.90" width="1.60" height="0.80" fill="#8a8a8a"/>
<rect x="361.70" y="683.90" width="1.60" height="0.80" fill="#8a8a8a"/>
<text x="372.00" y="686.40" font-size="6.45" text-anchor="middle" fill="#222" font-weight="normal" stroke="#222" stroke-width="0.1" >20</text>
<text x="381.15" y="686.40" font-size="6.45" text-anchor="middle" fill="#222" font-weight="normal" stroke="#222" stroke-width="0.1" >20</text>
<text x="390.30" y="686.40" font-size="6.45" text-anchor="middle" fill="#222" font-weight="normal" stroke="#222" stroke-width="0.1" >20</text>
<text x="7.20" y="17.00" font-size="11.5" text-anchor="start" fill="#000" font-weight="bold" stroke="#000" stroke-width="0.18" >A</text>
<text x="7.50" y="190.00" font-size="11.5" text-anchor="start" fill="#000" font-weight="bold" stroke="#000" stroke-width="0.18" >B</text>
<text x="276.00" y="189.70" font-size="11.5" text-anchor="start" fill="#000" font-weight="bold" stroke="#000" stroke-width="0.18" >C</text>
<text x="125.00" y="552.20" font-size="11.5" text-anchor="start" fill="#000" font-weight="bold" stroke="#000" stroke-width="0.18" >D</text>
<rect x="0" y="0" width="520" height="1.1" fill="#555"/><rect x="0" y="0" width="1.1" height="695" fill="#555"/><rect x="519" y="0" width="1" height="695" fill="#444"/><rect x="0" y="693.8" width="520" height="1.2" fill="#555"/>
</svg>
</body></html>
